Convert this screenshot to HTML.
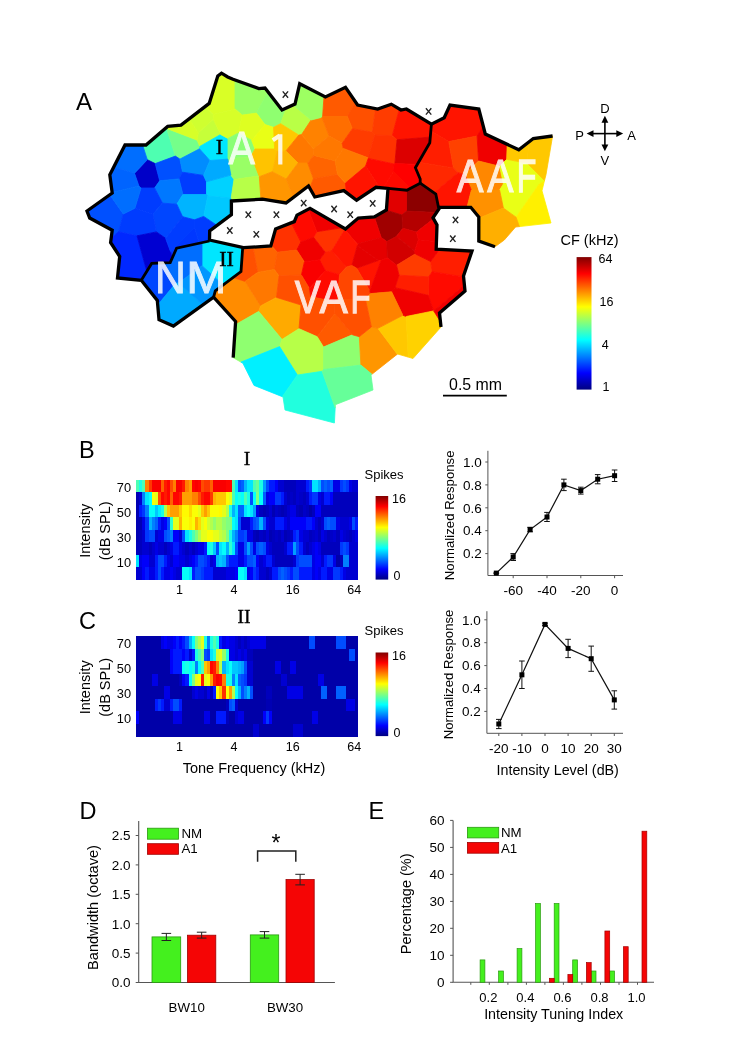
<!DOCTYPE html>
<html><head><meta charset="utf-8"><style>html,body{margin:0;padding:0;background:#fff;}svg{display:block;}</style></head>
<body><svg width="746" height="1042" viewBox="0 0 746 1042">
<rect width="746" height="1042" fill="#fff"/>
<g><polygon points="166.6,128.4 166.1,127.8 146.0,145.0 142.6,145.0 147.3,159.7 155.2,163.6 175.4,156.1 166.6,128.4" fill="#4effb1" stroke="#4effb1" stroke-width="0.8" stroke-linejoin="round"/><polygon points="199.8,146.4 197.0,140.1 166.6,128.4 175.4,156.1 179.9,159.1 199.5,148.8 199.8,146.4" fill="#75ff8a" stroke="#75ff8a" stroke-width="0.8" stroke-linejoin="round"/><polygon points="213.4,119.3 198.3,132.7 197.0,140.1 199.8,146.4 220.6,134.5 213.4,119.3" fill="#c6ff39" stroke="#c6ff39" stroke-width="0.8" stroke-linejoin="round"/><polygon points="228.0,158.8 228.0,138.5 220.6,134.5 199.8,146.4 199.5,148.8 209.9,160.5 227.8,159.1 228.0,158.8" fill="#00e6ff" stroke="#00e6ff" stroke-width="0.8" stroke-linejoin="round"/><polygon points="155.2,163.6 147.3,159.7 134.5,173.3 138.9,185.9 141.0,188.0 154.6,188.0 159.7,180.8 155.2,163.6" fill="#0000c8" stroke="#0000c8" stroke-width="0.8" stroke-linejoin="round"/><polygon points="179.0,178.9 182.6,172.2 179.9,159.1 175.4,156.1 155.2,163.6 159.7,180.8 179.0,178.9" fill="#0050ff" stroke="#0050ff" stroke-width="0.8" stroke-linejoin="round"/><polygon points="209.9,160.5 199.5,148.8 179.9,159.1 182.6,172.2 203.6,175.4 209.9,160.5" fill="#008cff" stroke="#008cff" stroke-width="0.8" stroke-linejoin="round"/><polygon points="182.6,172.2 179.0,178.9 182.9,194.5 206.5,194.5 206.5,181.8 203.6,175.4 182.6,172.2" fill="#003cff" stroke="#003cff" stroke-width="0.8" stroke-linejoin="round"/><polygon points="154.6,188.0 162.5,203.1 176.8,204.2 182.9,194.5 179.0,178.9 159.7,180.8 154.6,188.0" fill="#0078ff" stroke="#0078ff" stroke-width="0.8" stroke-linejoin="round"/><polygon points="206.5,181.8 206.5,194.5 207.8,196.1 231.2,197.9 234.0,179.6 230.9,175.1 206.5,181.8" fill="#00d2ff" stroke="#00d2ff" stroke-width="0.8" stroke-linejoin="round"/><polygon points="176.8,204.2 182.6,216.7 194.5,219.8 203.7,216.4 207.8,196.1 206.5,194.5 182.9,194.5 176.8,204.2" fill="#00b4ff" stroke="#00b4ff" stroke-width="0.8" stroke-linejoin="round"/><polygon points="231.2,197.9 207.8,196.1 203.7,216.4 217.0,225.4 231.4,214.7 231.4,201.0 233.5,200.9 231.2,197.9" fill="#00c8ff" stroke="#00c8ff" stroke-width="0.8" stroke-linejoin="round"/><polygon points="141.0,188.0 134.9,208.3 153.0,214.3 162.5,203.1 154.6,188.0 141.0,188.0" fill="#003cff" stroke="#003cff" stroke-width="0.8" stroke-linejoin="round"/><polygon points="162.5,203.1 153.0,214.3 156.4,231.9 165.6,238.3 182.6,216.7 176.8,204.2 162.5,203.1" fill="#0046ff" stroke="#0046ff" stroke-width="0.8" stroke-linejoin="round"/><polygon points="172.2,258.2 176.6,248.1 199.3,243.2 194.5,227.5 170.5,251.5 172.2,258.2" fill="#0037ff" stroke="#0037ff" stroke-width="0.8" stroke-linejoin="round"/><polygon points="134.5,173.3 147.3,159.7 142.6,145.0 125.0,145.0 113.7,167.0 134.5,173.3" fill="#006eff" stroke="#006eff" stroke-width="0.8" stroke-linejoin="round"/><polygon points="134.5,173.3 113.7,167.0 109.8,174.7 112.1,192.6 138.9,185.9 134.5,173.3" fill="#0064ff" stroke="#0064ff" stroke-width="0.8" stroke-linejoin="round"/><polygon points="109.8,194.7 87.0,211.0 89.7,218.0 112.2,230.2 111.2,237.8 118.5,231.8 123.3,213.9 109.8,194.7" fill="#0050ff" stroke="#0050ff" stroke-width="0.8" stroke-linejoin="round"/><polygon points="153.0,214.3 134.9,208.3 123.3,213.9 118.5,231.8 137.0,235.8 156.4,231.9 153.0,214.3" fill="#003cff" stroke="#003cff" stroke-width="0.8" stroke-linejoin="round"/><polygon points="112.1,192.6 112.2,193.0 109.8,194.7 123.3,213.9 134.9,208.3 141.0,188.0 138.9,185.9 112.1,192.6" fill="#006eff" stroke="#006eff" stroke-width="0.8" stroke-linejoin="round"/><polygon points="118.5,231.8 111.2,237.8 110.6,242.5 119.7,256.5 117.5,278.0 141.3,280.3 146.8,271.4 137.0,235.8 118.5,231.8" fill="#0028ff" stroke="#0028ff" stroke-width="0.8" stroke-linejoin="round"/><polygon points="194.5,227.5 199.3,243.2 209.5,241.0 209.7,230.8 217.0,225.4 203.7,216.4 194.5,219.8 194.5,227.5" fill="#003cff" stroke="#003cff" stroke-width="0.8" stroke-linejoin="round"/><polygon points="156.4,231.9 137.0,235.8 146.8,271.4 151.7,263.4 170.2,262.6 172.2,258.2 170.5,251.5 165.6,238.3 156.4,231.9" fill="#0000d2" stroke="#0000d2" stroke-width="0.8" stroke-linejoin="round"/><polygon points="170.5,251.5 194.5,227.5 194.5,219.8 182.6,216.7 165.6,238.3 170.5,251.5" fill="#003cff" stroke="#003cff" stroke-width="0.8" stroke-linejoin="round"/><polygon points="235.0,108.9 235.0,80.0 233.0,79.3 227.7,77.0 221.5,73.2 217.8,76.0 209.2,103.4 204.9,106.7 213.2,114.6 235.0,108.9" fill="#d9ff26" stroke="#d9ff26" stroke-width="0.8" stroke-linejoin="round"/><polygon points="256.4,113.1 268.0,91.8 265.0,88.0 258.8,88.6 235.0,80.0 235.0,108.9 242.2,115.1 256.4,113.1" fill="#99ff66" stroke="#99ff66" stroke-width="0.8" stroke-linejoin="round"/><polygon points="280.6,123.7 286.3,108.0 282.0,110.0 268.0,91.8 256.4,113.1 265.0,124.6 273.5,127.3 280.6,123.7" fill="#8fff70" stroke="#8fff70" stroke-width="0.8" stroke-linejoin="round"/><polygon points="311.1,120.0 293.0,104.9 286.3,108.0 280.6,123.7 298.8,135.1 301.5,134.6 311.1,120.0" fill="#b9ff46" stroke="#b9ff46" stroke-width="0.8" stroke-linejoin="round"/><polygon points="213.2,114.6 204.9,106.7 189.1,118.9 198.3,132.7 213.4,119.3 213.2,114.6" fill="#cfff30" stroke="#cfff30" stroke-width="0.8" stroke-linejoin="round"/><polygon points="238.5,132.9 242.2,115.1 235.0,108.9 213.2,114.6 213.4,119.3 220.6,134.5 228.0,138.5 238.5,132.9" fill="#d7ff28" stroke="#d7ff28" stroke-width="0.8" stroke-linejoin="round"/><polygon points="189.1,118.9 181.0,125.1 167.7,126.4 166.1,127.8 166.6,128.4 197.0,140.1 198.3,132.7 189.1,118.9" fill="#d7ff28" stroke="#d7ff28" stroke-width="0.8" stroke-linejoin="round"/><polygon points="265.0,124.6 256.4,113.1 242.2,115.1 238.5,132.9 251.7,140.5 265.0,124.6" fill="#deff21" stroke="#deff21" stroke-width="0.8" stroke-linejoin="round"/><polygon points="251.7,140.5 238.5,132.9 228.0,138.5 228.0,158.8 250.7,156.7 255.0,149.0 251.7,140.5" fill="#8aff75" stroke="#8aff75" stroke-width="0.8" stroke-linejoin="round"/><polygon points="274.6,149.0 273.5,127.3 265.0,124.6 251.7,140.5 255.0,149.0 274.6,149.0" fill="#e9ff16" stroke="#e9ff16" stroke-width="0.8" stroke-linejoin="round"/><polygon points="274.6,149.0 277.2,151.3 285.9,150.9 298.8,135.1 280.6,123.7 273.5,127.3 274.6,149.0" fill="#ffc800" stroke="#ffc800" stroke-width="0.8" stroke-linejoin="round"/><polygon points="314.0,155.4 313.5,149.1 301.5,134.6 298.8,135.1 285.9,150.9 298.0,163.0 307.7,163.0 314.0,155.4" fill="#ff7800" stroke="#ff7800" stroke-width="0.8" stroke-linejoin="round"/><polygon points="250.7,156.7 258.1,176.0 259.3,176.7 272.3,171.7 277.2,151.3 274.6,149.0 255.0,149.0 250.7,156.7" fill="#ffc300" stroke="#ffc300" stroke-width="0.8" stroke-linejoin="round"/><polygon points="298.0,163.0 285.9,150.9 277.2,151.3 272.3,171.7 286.2,179.0 298.0,163.0" fill="#ffb400" stroke="#ffb400" stroke-width="0.8" stroke-linejoin="round"/><polygon points="230.9,175.1 234.0,179.6 258.1,176.0 250.7,156.7 228.0,158.8 227.8,159.1 230.9,175.1" fill="#99ff66" stroke="#99ff66" stroke-width="0.8" stroke-linejoin="round"/><polygon points="209.9,160.5 203.6,175.4 206.5,181.8 230.9,175.1 227.8,159.1 209.9,160.5" fill="#00aaff" stroke="#00aaff" stroke-width="0.8" stroke-linejoin="round"/><polygon points="234.0,179.6 231.2,197.9 233.5,200.9 260.9,199.3 259.3,176.7 258.1,176.0 234.0,179.6" fill="#b7ff48" stroke="#b7ff48" stroke-width="0.8" stroke-linejoin="round"/><polygon points="272.3,171.7 259.3,176.7 260.9,199.3 262.5,199.2 286.0,203.0 293.3,197.5 286.2,179.0 272.3,171.7" fill="#ff9600" stroke="#ff9600" stroke-width="0.8" stroke-linejoin="round"/><polygon points="293.3,197.5 308.5,186.0 309.7,188.1 313.4,178.7 307.7,163.0 298.0,163.0 286.2,179.0 293.3,197.5" fill="#ff8c00" stroke="#ff8c00" stroke-width="0.8" stroke-linejoin="round"/><polygon points="329.1,136.1 321.9,117.3 311.1,120.0 301.5,134.6 313.5,149.1 329.1,136.1" fill="#ff8200" stroke="#ff8200" stroke-width="0.8" stroke-linejoin="round"/><polygon points="337.6,174.6 335.1,160.7 314.0,155.4 307.7,163.0 313.4,178.7 337.6,174.6" fill="#ff6400" stroke="#ff6400" stroke-width="0.8" stroke-linejoin="round"/><polygon points="345.4,183.1 337.6,174.6 313.4,178.7 309.7,188.1 314.8,197.0 343.8,190.6 346.3,192.5 345.4,183.1" fill="#ff5a00" stroke="#ff5a00" stroke-width="0.8" stroke-linejoin="round"/><polygon points="322.6,116.5 324.0,96.3 299.7,83.8 295.0,104.0 293.0,104.9 311.1,120.0 321.9,117.3 322.6,116.5" fill="#9dff62" stroke="#9dff62" stroke-width="0.8" stroke-linejoin="round"/><polygon points="347.3,116.5 355.3,101.7 345.5,87.3 325.4,97.0 324.0,96.3 322.6,116.5 347.3,116.5" fill="#ff5a00" stroke="#ff5a00" stroke-width="0.8" stroke-linejoin="round"/><polygon points="372.4,132.1 375.4,108.5 357.6,105.0 355.3,101.7 347.3,116.5 352.4,128.7 372.4,132.1" fill="#ff5000" stroke="#ff5000" stroke-width="0.8" stroke-linejoin="round"/><polygon points="374.7,135.1 392.3,135.7 399.3,109.0 391.3,104.2 377.7,109.0 375.4,108.5 372.4,132.1 374.7,135.1" fill="#ff3c00" stroke="#ff3c00" stroke-width="0.8" stroke-linejoin="round"/><polygon points="392.3,135.7 397.0,139.7 430.3,137.1 431.4,124.2 406.4,109.0 401.0,110.0 399.3,109.0 392.3,135.7" fill="#ff1400" stroke="#ff1400" stroke-width="0.8" stroke-linejoin="round"/><polygon points="352.4,128.7 347.3,116.5 322.6,116.5 321.9,117.3 329.1,136.1 342.2,143.3 352.4,128.7" fill="#ff6e00" stroke="#ff6e00" stroke-width="0.8" stroke-linejoin="round"/><polygon points="329.1,136.1 313.5,149.1 314.0,155.4 335.1,160.7 343.2,148.4 342.2,143.3 329.1,136.1" fill="#ff7800" stroke="#ff7800" stroke-width="0.8" stroke-linejoin="round"/><polygon points="343.2,148.4 368.0,157.8 374.7,135.1 372.4,132.1 352.4,128.7 342.2,143.3 343.2,148.4" fill="#ff3c00" stroke="#ff3c00" stroke-width="0.8" stroke-linejoin="round"/><polygon points="368.2,158.4 394.2,164.0 394.9,163.5 397.0,139.7 392.3,135.7 374.7,135.1 368.0,157.8 368.2,158.4" fill="#ff3200" stroke="#ff3200" stroke-width="0.8" stroke-linejoin="round"/><polygon points="397.0,139.7 394.9,163.5 417.3,164.4 429.8,142.7 430.3,137.1 397.0,139.7" fill="#dc0000" stroke="#dc0000" stroke-width="0.8" stroke-linejoin="round"/><polygon points="335.1,160.7 337.6,174.6 345.4,183.1 365.6,166.1 368.2,158.4 368.0,157.8 343.2,148.4 335.1,160.7" fill="#ff7800" stroke="#ff7800" stroke-width="0.8" stroke-linejoin="round"/><polygon points="379.5,187.6 383.2,188.0 393.4,171.4 394.2,164.0 368.2,158.4 365.6,166.1 379.5,187.6" fill="#ff0a00" stroke="#ff0a00" stroke-width="0.8" stroke-linejoin="round"/><polygon points="393.4,171.4 410.3,188.3 420.2,183.2 420.2,179.0 415.4,167.7 417.3,164.4 394.9,163.5 394.2,164.0 393.4,171.4" fill="#ff0000" stroke="#ff0000" stroke-width="0.8" stroke-linejoin="round"/><polygon points="346.3,192.5 356.6,200.2 376.0,187.3 379.5,187.6 365.6,166.1 345.4,183.1 346.3,192.5" fill="#ff1400" stroke="#ff1400" stroke-width="0.8" stroke-linejoin="round"/><polygon points="383.2,188.0 388.0,188.4 406.8,190.2 410.3,188.3 393.4,171.4 383.2,188.0" fill="#ff0a00" stroke="#ff0a00" stroke-width="0.8" stroke-linejoin="round"/><polygon points="483.2,126.1 478.8,109.0 450.0,105.0 444.2,117.8 431.4,124.2 430.8,131.1 448.8,141.6 477.1,136.0 483.2,126.1" fill="#ff1400" stroke="#ff1400" stroke-width="0.8" stroke-linejoin="round"/><polygon points="430.8,131.1 429.8,142.7 418.5,162.3 453.5,167.9 448.8,141.6 430.8,131.1" fill="#ff1e00" stroke="#ff1e00" stroke-width="0.8" stroke-linejoin="round"/><polygon points="448.8,141.6 453.5,167.9 458.0,172.7 464.7,174.4 478.6,161.0 477.1,136.0 448.8,141.6" fill="#ff4100" stroke="#ff4100" stroke-width="0.8" stroke-linejoin="round"/><polygon points="506.7,159.3 507.2,144.3 485.3,134.0 483.2,126.1 477.1,136.0 478.6,161.0 499.7,166.3 506.7,159.3" fill="#f00000" stroke="#f00000" stroke-width="0.8" stroke-linejoin="round"/><polygon points="453.5,167.9 418.5,162.3 415.4,167.7 420.2,179.0 420.2,183.2 434.0,192.8 458.0,172.7 453.5,167.9" fill="#ff2800" stroke="#ff2800" stroke-width="0.8" stroke-linejoin="round"/><polygon points="478.6,161.0 464.7,174.4 471.4,190.0 499.6,190.0 503.4,184.0 499.7,166.3 478.6,161.0" fill="#ff8700" stroke="#ff8700" stroke-width="0.8" stroke-linejoin="round"/><polygon points="544.3,181.3 544.5,180.5 527.3,163.3 506.7,159.3 499.7,166.3 503.4,184.0 539.3,184.0 544.3,181.3" fill="#e9ff16" stroke="#e9ff16" stroke-width="0.8" stroke-linejoin="round"/><polygon points="434.0,192.8 435.8,194.0 438.4,206.8 440.0,207.3 467.0,207.3 471.4,190.0 464.7,174.4 458.0,172.7 434.0,192.8" fill="#ff1400" stroke="#ff1400" stroke-width="0.8" stroke-linejoin="round"/><polygon points="527.3,163.3 544.5,180.5 546.0,174.7 552.6,136.0 533.3,138.5 528.6,142.2 527.3,163.3" fill="#ffc800" stroke="#ffc800" stroke-width="0.8" stroke-linejoin="round"/><polygon points="503.4,184.0 499.6,190.0 503.4,208.1 516.1,217.2 539.3,184.0 503.4,184.0" fill="#e9ff16" stroke="#e9ff16" stroke-width="0.8" stroke-linejoin="round"/><polygon points="516.1,217.2 519.4,226.6 551.0,223.0 542.0,190.8 544.3,181.3 539.3,184.0 516.1,217.2" fill="#fff000" stroke="#fff000" stroke-width="0.8" stroke-linejoin="round"/><polygon points="499.6,190.0 471.4,190.0 467.0,207.3 470.8,207.3 478.8,217.0 478.8,218.2 503.4,208.1 499.6,190.0" fill="#ff9100" stroke="#ff9100" stroke-width="0.8" stroke-linejoin="round"/><polygon points="478.8,218.2 478.8,241.0 495.0,246.8 504.3,240.0 515.6,227.0 519.4,226.6 516.1,217.2 503.4,208.1 478.8,218.2" fill="#ffaf00" stroke="#ffaf00" stroke-width="0.8" stroke-linejoin="round"/><polygon points="528.6,142.2 518.8,149.8 507.2,144.3 506.7,159.3 527.3,163.3 528.6,142.2" fill="#ffc800" stroke="#ffc800" stroke-width="0.8" stroke-linejoin="round"/><polygon points="406.5,211.1 436.5,212.5 440.0,207.3 438.4,206.8 435.8,194.0 420.2,183.2 406.8,190.2 406.5,190.2 406.5,211.1" fill="#8c0000" stroke="#8c0000" stroke-width="0.8" stroke-linejoin="round"/><polygon points="406.5,211.1 406.5,190.2 388.0,188.4 386.4,210.0 386.0,210.2 401.9,215.0 406.5,211.1" fill="#e10000" stroke="#e10000" stroke-width="0.8" stroke-linejoin="round"/><polygon points="401.9,215.0 386.0,210.2 374.3,217.0 381.2,237.5 386.8,241.6 396.3,236.6 402.9,228.3 401.9,215.0" fill="#a00000" stroke="#a00000" stroke-width="0.8" stroke-linejoin="round"/><polygon points="416.5,232.1 433.5,218.8 433.0,217.8 436.5,212.5 406.5,211.1 401.9,215.0 402.9,228.3 416.5,232.1" fill="#b40000" stroke="#b40000" stroke-width="0.8" stroke-linejoin="round"/><polygon points="396.3,236.6 414.7,250.9 418.4,239.7 416.5,232.1 402.9,228.3 396.3,236.6" fill="#dc0000" stroke="#dc0000" stroke-width="0.8" stroke-linejoin="round"/><polygon points="381.2,237.5 374.3,217.0 374.3,217.0 358.3,218.0 345.4,229.0 344.5,228.5 344.7,229.6 357.3,244.1 381.2,237.5" fill="#f00000" stroke="#f00000" stroke-width="0.8" stroke-linejoin="round"/><polygon points="344.7,229.6 344.5,228.5 343.0,227.6 316.8,231.7 313.6,237.3 325.1,252.2 331.8,250.8 344.7,229.6" fill="#ff3200" stroke="#ff3200" stroke-width="0.8" stroke-linejoin="round"/><polygon points="316.8,231.7 343.0,227.6 310.0,208.3 308.1,209.3 316.8,231.7" fill="#f00000" stroke="#f00000" stroke-width="0.8" stroke-linejoin="round"/><polygon points="381.0,260.5 387.3,257.8 386.8,241.6 381.2,237.5 357.3,244.1 357.3,245.5 378.3,260.5 381.0,260.5" fill="#e50000" stroke="#e50000" stroke-width="0.8" stroke-linejoin="round"/><polygon points="414.7,250.9 396.3,236.6 386.8,241.6 387.3,257.8 396.6,265.3 415.2,253.9 414.7,250.9" fill="#d20000" stroke="#d20000" stroke-width="0.8" stroke-linejoin="round"/><polygon points="432.1,271.7 430.6,261.5 415.2,253.9 396.6,265.3 399.0,275.2 428.8,276.8 432.1,271.7" fill="#ff3c00" stroke="#ff3c00" stroke-width="0.8" stroke-linejoin="round"/><polygon points="339.5,274.7 346.6,266.9 331.8,250.8 325.1,252.2 319.6,259.8 325.4,270.6 339.5,274.7" fill="#ff1e00" stroke="#ff1e00" stroke-width="0.8" stroke-linejoin="round"/><polygon points="369.9,291.1 381.0,260.5 378.3,260.5 356.7,268.2 369.9,291.1" fill="#ff1400" stroke="#ff1400" stroke-width="0.8" stroke-linejoin="round"/><polygon points="436.4,241.7 437.0,225.0 433.5,218.8 416.5,232.1 418.4,239.7 436.4,241.7" fill="#f00000" stroke="#f00000" stroke-width="0.8" stroke-linejoin="round"/><polygon points="463.6,276.9 463.5,276.0 472.0,251.0 439.6,249.4 430.6,261.5 432.1,271.7 463.6,276.9" fill="#ff1e00" stroke="#ff1e00" stroke-width="0.8" stroke-linejoin="round"/><polygon points="428.2,295.3 433.7,310.9 433.7,310.9 464.4,285.1 463.6,276.9 432.1,271.7 428.8,276.8 428.2,295.3" fill="#ff0a00" stroke="#ff0a00" stroke-width="0.8" stroke-linejoin="round"/><polygon points="399.0,275.2 395.0,287.7 428.2,295.3 428.8,276.8 399.0,275.2" fill="#ff1e00" stroke="#ff1e00" stroke-width="0.8" stroke-linejoin="round"/><polygon points="300.8,242.0 291.2,222.8 275.6,228.9 271.0,245.2 277.3,252.2 296.7,250.1 300.8,242.0" fill="#ff3200" stroke="#ff3200" stroke-width="0.8" stroke-linejoin="round"/><polygon points="316.8,231.7 308.1,209.3 297.0,215.1 294.3,221.6 291.2,222.8 300.8,242.0 313.6,237.3 316.8,231.7" fill="#ff0a00" stroke="#ff0a00" stroke-width="0.8" stroke-linejoin="round"/><polygon points="319.6,259.8 325.1,252.2 313.6,237.3 300.8,242.0 296.7,250.1 304.4,261.9 319.6,259.8" fill="#f00000" stroke="#f00000" stroke-width="0.8" stroke-linejoin="round"/><polygon points="277.3,252.2 271.0,245.2 270.8,246.0 253.0,247.1 257.6,272.4 274.3,269.5 277.3,252.2" fill="#ff6400" stroke="#ff6400" stroke-width="0.8" stroke-linejoin="round"/><polygon points="304.4,261.9 296.7,250.1 277.3,252.2 274.3,269.5 279.0,276.0 301.4,275.0 304.4,261.9" fill="#ff5a00" stroke="#ff5a00" stroke-width="0.8" stroke-linejoin="round"/><polygon points="325.4,270.6 319.6,259.8 304.4,261.9 301.4,275.0 309.4,288.4 325.4,270.6" fill="#fa0000" stroke="#fa0000" stroke-width="0.8" stroke-linejoin="round"/><polygon points="245.1,281.4 233.0,277.5 215.3,290.8 213.6,297.2 235.6,321.5 235.4,324.7 258.7,311.4 260.6,305.9 245.1,281.4" fill="#ff8c00" stroke="#ff8c00" stroke-width="0.8" stroke-linejoin="round"/><polygon points="253.0,247.1 243.4,247.7 242.6,249.0 241.0,271.5 233.0,277.5 245.1,281.4 257.6,272.4 253.0,247.1" fill="#ff5000" stroke="#ff5000" stroke-width="0.8" stroke-linejoin="round"/><polygon points="276.5,297.4 279.0,276.0 274.3,269.5 257.6,272.4 245.1,281.4 260.6,305.9 276.5,297.4" fill="#ff7800" stroke="#ff7800" stroke-width="0.8" stroke-linejoin="round"/><polygon points="258.7,311.4 282.0,339.4 299.0,328.7 301.0,305.0 276.5,297.4 260.6,305.9 258.7,311.4" fill="#ffaa00" stroke="#ffaa00" stroke-width="0.8" stroke-linejoin="round"/><polygon points="301.4,275.0 279.0,276.0 276.5,297.4 301.0,305.0 310.8,296.7 309.4,288.4 301.4,275.0" fill="#ff5000" stroke="#ff5000" stroke-width="0.8" stroke-linejoin="round"/><polygon points="310.8,296.7 334.5,301.6 337.6,299.5 339.5,274.7 325.4,270.6 309.4,288.4 310.8,296.7" fill="#ff0a00" stroke="#ff0a00" stroke-width="0.8" stroke-linejoin="round"/><polygon points="310.8,296.7 301.0,305.0 299.0,328.7 317.2,336.7 334.9,313.5 334.5,301.6 310.8,296.7" fill="#ff5000" stroke="#ff5000" stroke-width="0.8" stroke-linejoin="round"/><polygon points="334.9,313.5 317.2,336.7 323.5,347.0 352.4,334.8 334.9,313.5" fill="#ff5a00" stroke="#ff5a00" stroke-width="0.8" stroke-linejoin="round"/><polygon points="235.4,324.7 233.2,357.7 240.9,362.1 279.6,346.6 282.0,339.4 258.7,311.4 235.4,324.7" fill="#8fff70" stroke="#8fff70" stroke-width="0.8" stroke-linejoin="round"/><polygon points="279.6,346.6 297.4,375.0 322.1,371.3 323.5,369.5 323.5,347.0 317.2,336.7 299.0,328.7 282.0,339.4 279.6,346.6" fill="#b7ff48" stroke="#b7ff48" stroke-width="0.8" stroke-linejoin="round"/><polygon points="352.4,334.8 323.5,347.0 323.5,369.5 360.9,365.1 359.3,336.7 352.4,334.8" fill="#8fff70" stroke="#8fff70" stroke-width="0.8" stroke-linejoin="round"/><polygon points="279.6,346.6 240.9,362.1 242.9,363.3 254.0,385.4 282.3,396.7 297.4,375.0 279.6,346.6" fill="#00f0ff" stroke="#00f0ff" stroke-width="0.8" stroke-linejoin="round"/><polygon points="377.9,328.3 371.4,327.0 359.3,336.7 360.9,365.1 371.9,374.3 397.3,354.2 377.9,328.3" fill="#ff9600" stroke="#ff9600" stroke-width="0.8" stroke-linejoin="round"/><polygon points="297.4,375.0 282.3,396.7 283.0,397.0 285.0,410.0 334.4,423.0 335.2,407.8 322.1,371.3 297.4,375.0" fill="#21ffde" stroke="#21ffde" stroke-width="0.8" stroke-linejoin="round"/><polygon points="323.5,369.5 322.1,371.3 335.2,407.8 335.4,404.7 373.0,390.0 371.0,375.0 371.9,374.3 360.9,365.1 323.5,369.5" fill="#66ff99" stroke="#66ff99" stroke-width="0.8" stroke-linejoin="round"/><polygon points="402.9,315.3 377.9,328.3 397.3,354.2 397.5,354.0 408.2,357.1 406.2,316.5 402.9,315.3" fill="#ffc800" stroke="#ffc800" stroke-width="0.8" stroke-linejoin="round"/><polygon points="357.3,245.5 357.3,244.1 344.7,229.6 331.8,250.8 346.6,266.9 351.9,265.5 357.3,245.5" fill="#ff1400" stroke="#ff1400" stroke-width="0.8" stroke-linejoin="round"/><polygon points="378.3,260.5 357.3,245.5 351.9,265.5 356.7,268.2 378.3,260.5" fill="#e50000" stroke="#e50000" stroke-width="0.8" stroke-linejoin="round"/><polygon points="439.6,249.4 436.2,249.2 436.4,241.7 418.4,239.7 414.7,250.9 415.2,253.9 430.6,261.5 439.6,249.4" fill="#f00000" stroke="#f00000" stroke-width="0.8" stroke-linejoin="round"/><polygon points="351.9,265.5 346.6,266.9 339.5,274.7 337.6,299.5 365.5,299.5 370.5,293.6 369.9,291.1 356.7,268.2 351.9,265.5" fill="#ff4600" stroke="#ff4600" stroke-width="0.8" stroke-linejoin="round"/><polygon points="370.5,293.6 391.6,291.8 395.0,287.7 399.0,275.2 396.6,265.3 387.3,257.8 381.0,260.5 369.9,291.1 370.5,293.6" fill="#f00000" stroke="#f00000" stroke-width="0.8" stroke-linejoin="round"/><polygon points="428.2,295.3 395.0,287.7 391.6,291.8 402.9,315.3 406.2,316.5 433.7,310.9 428.2,295.3" fill="#f00000" stroke="#f00000" stroke-width="0.8" stroke-linejoin="round"/><polygon points="365.5,299.5 371.4,327.0 377.9,328.3 402.9,315.3 391.6,291.8 370.5,293.6 365.5,299.5" fill="#ff8200" stroke="#ff8200" stroke-width="0.8" stroke-linejoin="round"/><polygon points="334.5,301.6 334.9,313.5 352.4,334.8 359.3,336.7 371.4,327.0 365.5,299.5 337.6,299.5 334.5,301.6" fill="#ff5000" stroke="#ff5000" stroke-width="0.8" stroke-linejoin="round"/><polygon points="406.2,316.5 408.2,357.1 413.0,358.5 441.0,327.0 440.4,321.6 433.7,310.9 433.7,310.9 406.2,316.5" fill="#ffd200" stroke="#ffd200" stroke-width="0.8" stroke-linejoin="round"/><polygon points="440.4,321.6 439.5,313.0 465.0,291.0 464.4,285.1 433.7,310.9 440.4,321.6" fill="#f00000" stroke="#f00000" stroke-width="0.8" stroke-linejoin="round"/><polygon points="223.1,285.0 241.0,271.5 242.6,249.0 243.4,247.7 209.5,241.0 202.0,242.6 202.0,265.7 223.1,285.0" fill="#00e6ff" stroke="#00e6ff" stroke-width="0.8" stroke-linejoin="round"/><polygon points="202.0,265.7 202.0,242.6 176.6,248.1 170.2,262.6 163.5,262.9 175.9,283.0 178.6,283.0 202.0,265.7" fill="#006eff" stroke="#006eff" stroke-width="0.8" stroke-linejoin="round"/><polygon points="163.5,262.9 151.7,263.4 141.3,280.3 157.3,300.4 157.7,305.0 175.9,283.0 163.5,262.9" fill="#0046ff" stroke="#0046ff" stroke-width="0.8" stroke-linejoin="round"/><polygon points="175.9,283.0 157.7,305.0 159.0,319.7 173.4,326.0 203.0,304.8 178.6,283.0 175.9,283.0" fill="#00aaff" stroke="#00aaff" stroke-width="0.8" stroke-linejoin="round"/><polygon points="203.0,304.8 213.6,297.2 215.3,290.8 223.1,285.0 202.0,265.7 178.6,283.0 203.0,304.8" fill="#0096ff" stroke="#0096ff" stroke-width="0.8" stroke-linejoin="round"/></g><polygon points="231.4,201.0 262.5,199.2 286.0,203.0 308.5,186.0 314.8,197.0 343.8,190.6 356.6,200.2 376.0,187.3 388.0,188.4 386.4,210.0 374.3,217.0 358.3,218.0 345.4,229.0 310.0,208.3 297.0,215.1 294.3,221.6 275.6,228.9 270.8,246.0 243.4,247.7 209.5,240.0 209.7,230.8 231.4,214.7" fill="#fff"/><polyline points="233.2,357.7 235.6,321.5 213.6,297.2 173.4,326.0 159.0,319.7 157.3,300.4 141.3,280.3 117.5,278.0 119.7,256.5 110.6,242.5 112.2,230.2 89.7,218.0 87.0,211.0 112.2,193.0 109.8,174.7 125.0,145.0 146.0,145.0 167.7,126.4 181.0,125.1 209.2,103.4 217.8,76.0 221.5,73.2 227.7,77.0 233.0,79.3 258.8,88.6 265.0,88.0 282.0,110.0 295.0,104.0 299.7,83.8 325.4,97.0 345.5,87.3 357.6,105.0 377.7,109.0 391.3,104.2 401.0,110.0 406.4,109.0 431.4,124.2 444.2,117.8 450.0,105.0 478.8,109.0 485.3,134.0 518.8,149.8 533.3,138.5 552.6,136.0" fill="none" stroke="#000" stroke-width="3.3" stroke-linejoin="miter" stroke-miterlimit="3"/><polyline points="495.0,246.8 478.8,241.0 478.8,217.0 470.8,207.3 440.0,207.3 433.0,217.8 437.0,225.0 436.2,249.2 472.0,251.0 463.5,276.0 465.0,291.0 439.5,313.0 441.0,327.0" fill="none" stroke="#000" stroke-width="3.3" stroke-linejoin="miter" stroke-miterlimit="3"/><polygon points="231.4,201.0 262.5,199.2 286.0,203.0 308.5,186.0 314.8,197.0 343.8,190.6 356.6,200.2 376.0,187.3 388.0,188.4 386.4,210.0 374.3,217.0 358.3,218.0 345.4,229.0 310.0,208.3 297.0,215.1 294.3,221.6 275.6,228.9 270.8,246.0 243.4,247.7 209.5,240.0 209.7,230.8 231.4,214.7" fill="none" stroke="#000" stroke-width="3.3" stroke-linejoin="miter" stroke-miterlimit="3"/><polyline points="431.4,124.2 429.8,142.7 415.4,167.7 420.2,179.0 420.2,183.2" fill="none" stroke="#000" stroke-width="2.8" stroke-linejoin="miter" stroke-miterlimit="3"/><polyline points="388.0,188.4 406.8,190.2 420.2,183.2" fill="none" stroke="#000" stroke-width="2.8" stroke-linejoin="miter" stroke-miterlimit="3"/><polyline points="420.2,183.2 435.8,194.0 438.4,206.8 440.0,207.3" fill="none" stroke="#000" stroke-width="2.8" stroke-linejoin="miter" stroke-miterlimit="3"/><polyline points="209.5,241.0 176.6,248.1 170.2,262.6 151.7,263.4 141.3,280.3" fill="none" stroke="#000" stroke-width="2.8" stroke-linejoin="miter" stroke-miterlimit="3"/><polyline points="243.4,247.7 242.6,249.0 241.0,271.5 215.3,290.8 213.6,297.2" fill="none" stroke="#000" stroke-width="2.8" stroke-linejoin="miter" stroke-miterlimit="3"/><path d="M282.7,91.4L288.1,97.8M288.1,91.4L282.7,97.8M425.9,108.2L431.3,114.6M431.3,108.2L425.9,114.6M245.6,211.5L251.0,217.9M251.0,211.5L245.6,217.9M273.7,211.5L279.1,217.9M279.1,211.5L273.7,217.9M301.0,199.9L306.4,206.3M306.4,199.9L301.0,206.3M227.1,227.3L232.5,233.7M232.5,227.3L227.1,233.7M253.6,231.1L259.0,237.5M259.0,231.1L253.6,237.5M331.4,205.8L336.8,212.2M336.8,205.8L331.4,212.2M347.5,211.5L352.9,217.9M352.9,211.5L347.5,217.9M370.0,200.2L375.4,206.6M375.4,200.2L370.0,206.6M452.8,216.7L458.2,223.1M458.2,216.7L452.8,223.1M450.1,235.5L455.5,241.9M455.5,235.5L450.1,241.9" stroke="#222" stroke-width="1.35" fill="none"/><g opacity="0.85"><text x="0" y="0" font-family='"Liberation Sans", sans-serif' font-size="100" fill="#fff" stroke="#fff" stroke-width="2.28" transform="translate(228.40,164.20) scale(0.3955,0.4536)">A</text><text x="0" y="0" font-family='"Liberation Sans", sans-serif' font-size="100" fill="#fff" stroke="#fff" stroke-width="2.24" transform="translate(456.80,191.80) scale(0.4015,0.4710)">A</text><text x="0" y="0" font-family='"Liberation Sans", sans-serif' font-size="100" fill="#fff" stroke="#fff" stroke-width="2.28" transform="translate(487.30,191.80) scale(0.3939,0.4710)">A</text><text x="0" y="0" font-family='"Liberation Sans", sans-serif' font-size="100" fill="#fff" stroke="#fff" stroke-width="2.81" transform="translate(516.64,191.80) scale(0.3204,0.4710)">F</text><text x="0" y="0" font-family='"Liberation Sans", sans-serif' font-size="100" fill="#fff" stroke="#fff" stroke-width="2.11" transform="translate(154.99,293.40) scale(0.4268,0.4348)">N</text><text x="0" y="0" font-family='"Liberation Sans", sans-serif' font-size="100" fill="#fff" stroke="#fff" stroke-width="1.86" transform="translate(186.23,293.40) scale(0.4836,0.4348)">M</text><text x="0" y="0" font-family='"Liberation Sans", sans-serif' font-size="100" fill="#fff" stroke="#fff" stroke-width="2.32" transform="translate(294.81,312.80) scale(0.3877,0.4638)">V</text><text x="0" y="0" font-family='"Liberation Sans", sans-serif' font-size="100" fill="#fff" stroke="#fff" stroke-width="2.11" transform="translate(319.40,312.80) scale(0.4258,0.4638)">A</text><text x="0" y="0" font-family='"Liberation Sans", sans-serif' font-size="100" fill="#fff" stroke="#fff" stroke-width="2.74" transform="translate(350.47,312.80) scale(0.3286,0.4638)">F</text></g><path d="M272.8,140.2 L279.8,135.4 M280.3,134.2 L280.3,164.6" stroke="#fff" opacity="0.85" stroke-width="4.2" fill="none" stroke-linejoin="round"/><text x="219.4" y="154" font-family='"Liberation Serif", serif' font-size="22" text-anchor="middle" fill="#000" stroke="#000" stroke-width="0.4">I</text><text x="226.5" y="266" font-family='"Liberation Serif", serif' font-size="22" text-anchor="middle" fill="#000" stroke="#000" stroke-width="0.4">II</text><text x="76" y="110" font-family='"Liberation Sans", sans-serif' font-size="24" text-anchor="start" fill="#000" >A</text><g stroke="#000" stroke-width="1.6" fill="#000"><line x1="590" y1="133.6" x2="620" y2="133.6"/><line x1="604.9" y1="119" x2="604.9" y2="148"/></g><g fill="#000"><polygon points="586.6,133.6 593.5,130.2 593.5,137"/><polygon points="623.2,133.6 616.3,130.2 616.3,137"/><polygon points="604.9,115.8 601.5,122.7 608.3,122.7"/><polygon points="604.9,151.3 601.5,144.4 608.3,144.4"/></g><text x="604.9" y="113" font-family='"Liberation Sans", sans-serif' font-size="13" text-anchor="middle" fill="#000" >D</text><text x="604.9" y="164.5" font-family='"Liberation Sans", sans-serif' font-size="13" text-anchor="middle" fill="#000" >V</text><text x="579.6" y="139.7" font-family='"Liberation Sans", sans-serif' font-size="13" text-anchor="middle" fill="#000" >P</text><text x="631.6" y="139.7" font-family='"Liberation Sans", sans-serif' font-size="13" text-anchor="middle" fill="#000" >A</text><defs><linearGradient id="jetv" x1="0" y1="1" x2="0" y2="0"><stop offset="0" stop-color="#000080"/><stop offset="0.125" stop-color="#0000ff"/><stop offset="0.375" stop-color="#00ffff"/><stop offset="0.625" stop-color="#ffff00"/><stop offset="0.875" stop-color="#ff0000"/><stop offset="1" stop-color="#800000"/></linearGradient></defs><rect x="576.6" y="257.1" width="14.9" height="132.5" fill="url(#jetv)"/><text x="589.5" y="245" font-family='"Liberation Sans", sans-serif' font-size="14.5" text-anchor="middle" fill="#000" >CF (kHz)</text><text x="598.5" y="262.5" font-family='"Liberation Sans", sans-serif' font-size="12.5" text-anchor="start" fill="#000" >64</text><text x="599.5" y="306" font-family='"Liberation Sans", sans-serif' font-size="12.5" text-anchor="start" fill="#000" >16</text><text x="601.8" y="348.5" font-family='"Liberation Sans", sans-serif' font-size="12.5" text-anchor="start" fill="#000" >4</text><text x="602.5" y="391" font-family='"Liberation Sans", sans-serif' font-size="12.5" text-anchor="start" fill="#000" >1</text><line x1="443" y1="395.6" x2="506.8" y2="395.6" stroke="#000" stroke-width="1.6"/><text x="475.6" y="389.5" font-family='"Liberation Sans", sans-serif' font-size="15.9" text-anchor="middle" fill="#000" >0.5 mm</text><g shape-rendering="crispEdges"><rect x="136.20" y="479.80" width="3.48" height="12.90" fill="#4dffb3"/><rect x="139.28" y="479.80" width="3.48" height="12.90" fill="#1affe5"/><rect x="142.36" y="479.80" width="3.48" height="12.90" fill="#4dffb3"/><rect x="145.44" y="479.80" width="3.48" height="12.90" fill="#ff8000"/><rect x="148.52" y="479.80" width="3.48" height="12.90" fill="#ff3800"/><rect x="151.60" y="479.80" width="3.48" height="12.90" fill="#fa0000"/><rect x="154.68" y="479.80" width="3.48" height="12.90" fill="#fa0000"/><rect x="157.76" y="479.80" width="3.48" height="12.90" fill="#fa0000"/><rect x="160.84" y="479.80" width="3.48" height="12.90" fill="#ff6100"/><rect x="163.92" y="479.80" width="3.48" height="12.90" fill="#ff1a00"/><rect x="167.01" y="479.80" width="3.48" height="12.90" fill="#ff0500"/><rect x="170.09" y="479.80" width="3.48" height="12.90" fill="#ff4c00"/><rect x="173.17" y="479.80" width="3.48" height="12.90" fill="#ff8000"/><rect x="176.25" y="479.80" width="3.48" height="12.90" fill="#fa0000"/><rect x="179.33" y="479.80" width="3.48" height="12.90" fill="#fa0000"/><rect x="182.41" y="479.80" width="3.48" height="12.90" fill="#ff1a00"/><rect x="185.49" y="479.80" width="3.48" height="12.90" fill="#ff8000"/><rect x="188.57" y="479.80" width="3.48" height="12.90" fill="#ff9e00"/><rect x="191.65" y="479.80" width="3.48" height="12.90" fill="#ff0500"/><rect x="194.73" y="479.80" width="3.48" height="12.90" fill="#fa0000"/><rect x="197.81" y="479.80" width="3.48" height="12.90" fill="#ff0500"/><rect x="200.89" y="479.80" width="3.48" height="12.90" fill="#ff4c00"/><rect x="203.97" y="479.80" width="3.48" height="12.90" fill="#ff3800"/><rect x="207.05" y="479.80" width="3.48" height="12.90" fill="#ff3800"/><rect x="210.13" y="479.80" width="3.48" height="12.90" fill="#ff6100"/><rect x="213.21" y="479.80" width="3.48" height="12.90" fill="#fa0000"/><rect x="216.29" y="479.80" width="3.48" height="12.90" fill="#fa0000"/><rect x="219.38" y="479.80" width="3.48" height="12.90" fill="#fa0000"/><rect x="222.46" y="479.80" width="3.48" height="12.90" fill="#fa0000"/><rect x="225.54" y="479.80" width="3.48" height="12.90" fill="#ff0500"/><rect x="228.62" y="479.80" width="3.48" height="12.90" fill="#ff0500"/><rect x="231.70" y="479.80" width="3.48" height="12.90" fill="#4dffb3"/><rect x="234.78" y="479.80" width="3.48" height="12.90" fill="#00e5ff"/><rect x="237.86" y="479.80" width="3.48" height="12.90" fill="#004dff"/><rect x="240.94" y="479.80" width="3.48" height="12.90" fill="#0061ff"/><rect x="244.02" y="479.80" width="3.48" height="12.90" fill="#00b3ff"/><rect x="247.10" y="479.80" width="3.48" height="12.90" fill="#00e5ff"/><rect x="250.18" y="479.80" width="3.48" height="12.90" fill="#00e5ff"/><rect x="253.26" y="479.80" width="3.48" height="12.90" fill="#4dffb3"/><rect x="256.34" y="479.80" width="3.48" height="12.90" fill="#6bff94"/><rect x="259.42" y="479.80" width="3.48" height="12.90" fill="#1affe5"/><rect x="262.50" y="479.80" width="3.48" height="12.90" fill="#009eff"/><rect x="265.58" y="479.80" width="3.48" height="12.90" fill="#004dff"/><rect x="268.66" y="479.80" width="3.48" height="12.90" fill="#001aff"/><rect x="271.74" y="479.80" width="3.48" height="12.90" fill="#001aff"/><rect x="274.82" y="479.80" width="3.48" height="12.90" fill="#0000fa"/><rect x="277.91" y="479.80" width="3.48" height="12.90" fill="#0000d1"/><rect x="280.99" y="479.80" width="3.48" height="12.90" fill="#0000d1"/><rect x="284.07" y="479.80" width="3.48" height="12.90" fill="#0000bd"/><rect x="287.15" y="479.80" width="3.48" height="12.90" fill="#0000bd"/><rect x="290.23" y="479.80" width="3.48" height="12.90" fill="#0000bd"/><rect x="293.31" y="479.80" width="3.48" height="12.90" fill="#0000bd"/><rect x="296.39" y="479.80" width="3.48" height="12.90" fill="#0000d1"/><rect x="299.47" y="479.80" width="3.48" height="12.90" fill="#0000d1"/><rect x="302.55" y="479.80" width="3.48" height="12.90" fill="#0000d1"/><rect x="305.63" y="479.80" width="3.48" height="12.90" fill="#001aff"/><rect x="308.71" y="479.80" width="3.48" height="12.90" fill="#0038ff"/><rect x="311.79" y="479.80" width="3.48" height="12.90" fill="#00e5ff"/><rect x="314.87" y="479.80" width="3.48" height="12.90" fill="#00e5ff"/><rect x="317.95" y="479.80" width="3.48" height="12.90" fill="#00b3ff"/><rect x="321.03" y="479.80" width="3.48" height="12.90" fill="#004dff"/><rect x="324.11" y="479.80" width="3.48" height="12.90" fill="#0061ff"/><rect x="327.19" y="479.80" width="3.48" height="12.90" fill="#004dff"/><rect x="330.27" y="479.80" width="3.48" height="12.90" fill="#0061ff"/><rect x="333.36" y="479.80" width="3.48" height="12.90" fill="#0000e6"/><rect x="336.44" y="479.80" width="3.48" height="12.90" fill="#0000e6"/><rect x="339.52" y="479.80" width="3.48" height="12.90" fill="#0038ff"/><rect x="342.60" y="479.80" width="3.48" height="12.90" fill="#004dff"/><rect x="345.68" y="479.80" width="3.48" height="12.90" fill="#0038ff"/><rect x="348.76" y="479.80" width="3.48" height="12.90" fill="#0000e6"/><rect x="351.84" y="479.80" width="3.48" height="12.90" fill="#0000d1"/><rect x="354.92" y="479.80" width="3.48" height="12.90" fill="#0000d1"/><rect x="136.20" y="492.30" width="3.48" height="12.90" fill="#0000b3"/><rect x="139.28" y="492.30" width="3.48" height="12.90" fill="#0000d1"/><rect x="142.36" y="492.30" width="3.48" height="12.90" fill="#0080ff"/><rect x="145.44" y="492.30" width="3.48" height="12.90" fill="#00e5ff"/><rect x="148.52" y="492.30" width="3.48" height="12.90" fill="#05fffa"/><rect x="151.60" y="492.30" width="3.48" height="12.90" fill="#faff05"/><rect x="154.68" y="492.30" width="3.48" height="12.90" fill="#e5ff1a"/><rect x="157.76" y="492.30" width="3.48" height="12.90" fill="#ff4c00"/><rect x="160.84" y="492.30" width="3.48" height="12.90" fill="#ff0500"/><rect x="163.92" y="492.30" width="3.48" height="12.90" fill="#ff1a00"/><rect x="167.01" y="492.30" width="3.48" height="12.90" fill="#ff0500"/><rect x="170.09" y="492.30" width="3.48" height="12.90" fill="#ff6100"/><rect x="173.17" y="492.30" width="3.48" height="12.90" fill="#ff0500"/><rect x="176.25" y="492.30" width="3.48" height="12.90" fill="#ff0500"/><rect x="179.33" y="492.30" width="3.48" height="12.90" fill="#ff1a00"/><rect x="182.41" y="492.30" width="3.48" height="12.90" fill="#ff9e00"/><rect x="185.49" y="492.30" width="3.48" height="12.90" fill="#ff9e00"/><rect x="188.57" y="492.30" width="3.48" height="12.90" fill="#ff9e00"/><rect x="191.65" y="492.30" width="3.48" height="12.90" fill="#ff8000"/><rect x="194.73" y="492.30" width="3.48" height="12.90" fill="#ff8000"/><rect x="197.81" y="492.30" width="3.48" height="12.90" fill="#ff4c00"/><rect x="200.89" y="492.30" width="3.48" height="12.90" fill="#ff1a00"/><rect x="203.97" y="492.30" width="3.48" height="12.90" fill="#ff0500"/><rect x="207.05" y="492.30" width="3.48" height="12.90" fill="#ff0500"/><rect x="210.13" y="492.30" width="3.48" height="12.90" fill="#ff3800"/><rect x="213.21" y="492.30" width="3.48" height="12.90" fill="#ffb300"/><rect x="216.29" y="492.30" width="3.48" height="12.90" fill="#ffc700"/><rect x="219.38" y="492.30" width="3.48" height="12.90" fill="#ffc700"/><rect x="222.46" y="492.30" width="3.48" height="12.90" fill="#ffc700"/><rect x="225.54" y="492.30" width="3.48" height="12.90" fill="#faff05"/><rect x="228.62" y="492.30" width="3.48" height="12.90" fill="#e5ff1a"/><rect x="231.70" y="492.30" width="3.48" height="12.90" fill="#4dffb3"/><rect x="234.78" y="492.30" width="3.48" height="12.90" fill="#05fffa"/><rect x="237.86" y="492.30" width="3.48" height="12.90" fill="#1affe5"/><rect x="240.94" y="492.30" width="3.48" height="12.90" fill="#05fffa"/><rect x="244.02" y="492.30" width="3.48" height="12.90" fill="#4dffb3"/><rect x="247.10" y="492.30" width="3.48" height="12.90" fill="#1affe5"/><rect x="250.18" y="492.30" width="3.48" height="12.90" fill="#004dff"/><rect x="253.26" y="492.30" width="3.48" height="12.90" fill="#05fffa"/><rect x="256.34" y="492.30" width="3.48" height="12.90" fill="#80ff80"/><rect x="259.42" y="492.30" width="3.48" height="12.90" fill="#05fffa"/><rect x="262.50" y="492.30" width="3.48" height="12.90" fill="#0061ff"/><rect x="265.58" y="492.30" width="3.48" height="12.90" fill="#0000e6"/><rect x="268.66" y="492.30" width="3.48" height="12.90" fill="#0000fa"/><rect x="271.74" y="492.30" width="3.48" height="12.90" fill="#0000fa"/><rect x="274.82" y="492.30" width="3.48" height="12.90" fill="#0038ff"/><rect x="277.91" y="492.30" width="3.48" height="12.90" fill="#0038ff"/><rect x="280.99" y="492.30" width="3.48" height="12.90" fill="#001aff"/><rect x="284.07" y="492.30" width="3.48" height="12.90" fill="#0000d1"/><rect x="287.15" y="492.30" width="3.48" height="12.90" fill="#0000bd"/><rect x="290.23" y="492.30" width="3.48" height="12.90" fill="#0000c7"/><rect x="293.31" y="492.30" width="3.48" height="12.90" fill="#0000bd"/><rect x="296.39" y="492.30" width="3.48" height="12.90" fill="#0000d1"/><rect x="299.47" y="492.30" width="3.48" height="12.90" fill="#0000c7"/><rect x="302.55" y="492.30" width="3.48" height="12.90" fill="#0000bd"/><rect x="305.63" y="492.30" width="3.48" height="12.90" fill="#0000d1"/><rect x="308.71" y="492.30" width="3.48" height="12.90" fill="#001aff"/><rect x="311.79" y="492.30" width="3.48" height="12.90" fill="#0038ff"/><rect x="314.87" y="492.30" width="3.48" height="12.90" fill="#0038ff"/><rect x="317.95" y="492.30" width="3.48" height="12.90" fill="#0000e6"/><rect x="321.03" y="492.30" width="3.48" height="12.90" fill="#0000d1"/><rect x="324.11" y="492.30" width="3.48" height="12.90" fill="#001aff"/><rect x="327.19" y="492.30" width="3.48" height="12.90" fill="#001aff"/><rect x="330.27" y="492.30" width="3.48" height="12.90" fill="#0000fa"/><rect x="333.36" y="492.30" width="3.48" height="12.90" fill="#0000bd"/><rect x="336.44" y="492.30" width="3.48" height="12.90" fill="#0000bd"/><rect x="339.52" y="492.30" width="3.48" height="12.90" fill="#0000bd"/><rect x="342.60" y="492.30" width="3.48" height="12.90" fill="#0000bd"/><rect x="345.68" y="492.30" width="3.48" height="12.90" fill="#0000bd"/><rect x="348.76" y="492.30" width="3.48" height="12.90" fill="#0000bd"/><rect x="351.84" y="492.30" width="3.48" height="12.90" fill="#0000bd"/><rect x="354.92" y="492.30" width="3.48" height="12.90" fill="#0000bd"/><rect x="136.20" y="504.80" width="3.48" height="12.90" fill="#0000b3"/><rect x="139.28" y="504.80" width="3.48" height="12.90" fill="#001aff"/><rect x="142.36" y="504.80" width="3.48" height="12.90" fill="#0038ff"/><rect x="145.44" y="504.80" width="3.48" height="12.90" fill="#0080ff"/><rect x="148.52" y="504.80" width="3.48" height="12.90" fill="#05fffa"/><rect x="151.60" y="504.80" width="3.48" height="12.90" fill="#05fffa"/><rect x="154.68" y="504.80" width="3.48" height="12.90" fill="#00c7ff"/><rect x="157.76" y="504.80" width="3.48" height="12.90" fill="#00f0ff"/><rect x="160.84" y="504.80" width="3.48" height="12.90" fill="#1affe5"/><rect x="163.92" y="504.80" width="3.48" height="12.90" fill="#b3ff4c"/><rect x="167.01" y="504.80" width="3.48" height="12.90" fill="#ffc700"/><rect x="170.09" y="504.80" width="3.48" height="12.90" fill="#ff9e00"/><rect x="173.17" y="504.80" width="3.48" height="12.90" fill="#ff9e00"/><rect x="176.25" y="504.80" width="3.48" height="12.90" fill="#ff9e00"/><rect x="179.33" y="504.80" width="3.48" height="12.90" fill="#ffc700"/><rect x="182.41" y="504.80" width="3.48" height="12.90" fill="#fffa00"/><rect x="185.49" y="504.80" width="3.48" height="12.90" fill="#fffa00"/><rect x="188.57" y="504.80" width="3.48" height="12.90" fill="#ffdb00"/><rect x="191.65" y="504.80" width="3.48" height="12.90" fill="#faff05"/><rect x="194.73" y="504.80" width="3.48" height="12.90" fill="#faff05"/><rect x="197.81" y="504.80" width="3.48" height="12.90" fill="#e5ff1a"/><rect x="200.89" y="504.80" width="3.48" height="12.90" fill="#ffc700"/><rect x="203.97" y="504.80" width="3.48" height="12.90" fill="#ff9e00"/><rect x="207.05" y="504.80" width="3.48" height="12.90" fill="#ffc700"/><rect x="210.13" y="504.80" width="3.48" height="12.90" fill="#faff05"/><rect x="213.21" y="504.80" width="3.48" height="12.90" fill="#faff05"/><rect x="216.29" y="504.80" width="3.48" height="12.90" fill="#faff05"/><rect x="219.38" y="504.80" width="3.48" height="12.90" fill="#fffa00"/><rect x="222.46" y="504.80" width="3.48" height="12.90" fill="#e5ff1a"/><rect x="225.54" y="504.80" width="3.48" height="12.90" fill="#b3ff4c"/><rect x="228.62" y="504.80" width="3.48" height="12.90" fill="#1affe5"/><rect x="231.70" y="504.80" width="3.48" height="12.90" fill="#00b3ff"/><rect x="234.78" y="504.80" width="3.48" height="12.90" fill="#00e5ff"/><rect x="237.86" y="504.80" width="3.48" height="12.90" fill="#0061ff"/><rect x="240.94" y="504.80" width="3.48" height="12.90" fill="#0061ff"/><rect x="244.02" y="504.80" width="3.48" height="12.90" fill="#00e5ff"/><rect x="247.10" y="504.80" width="3.48" height="12.90" fill="#05fffa"/><rect x="250.18" y="504.80" width="3.48" height="12.90" fill="#00e5ff"/><rect x="253.26" y="504.80" width="3.48" height="12.90" fill="#009eff"/><rect x="256.34" y="504.80" width="3.48" height="12.90" fill="#0000e6"/><rect x="259.42" y="504.80" width="3.48" height="12.90" fill="#0000bd"/><rect x="262.50" y="504.80" width="3.48" height="12.90" fill="#0000b3"/><rect x="265.58" y="504.80" width="3.48" height="12.90" fill="#0000bd"/><rect x="268.66" y="504.80" width="3.48" height="12.90" fill="#0000d1"/><rect x="271.74" y="504.80" width="3.48" height="12.90" fill="#0000b3"/><rect x="274.82" y="504.80" width="3.48" height="12.90" fill="#0000c7"/><rect x="277.91" y="504.80" width="3.48" height="12.90" fill="#0000bd"/><rect x="280.99" y="504.80" width="3.48" height="12.90" fill="#0000b3"/><rect x="284.07" y="504.80" width="3.48" height="12.90" fill="#0000bd"/><rect x="287.15" y="504.80" width="3.48" height="12.90" fill="#0000d1"/><rect x="290.23" y="504.80" width="3.48" height="12.90" fill="#0000e6"/><rect x="293.31" y="504.80" width="3.48" height="12.90" fill="#0000e6"/><rect x="296.39" y="504.80" width="3.48" height="12.90" fill="#0000bd"/><rect x="299.47" y="504.80" width="3.48" height="12.90" fill="#0000b3"/><rect x="302.55" y="504.80" width="3.48" height="12.90" fill="#0000c7"/><rect x="305.63" y="504.80" width="3.48" height="12.90" fill="#0000bd"/><rect x="308.71" y="504.80" width="3.48" height="12.90" fill="#0000a8"/><rect x="311.79" y="504.80" width="3.48" height="12.90" fill="#0000bd"/><rect x="314.87" y="504.80" width="3.48" height="12.90" fill="#0000fa"/><rect x="317.95" y="504.80" width="3.48" height="12.90" fill="#0000fa"/><rect x="321.03" y="504.80" width="3.48" height="12.90" fill="#0000bd"/><rect x="324.11" y="504.80" width="3.48" height="12.90" fill="#0000bd"/><rect x="327.19" y="504.80" width="3.48" height="12.90" fill="#0000bd"/><rect x="330.27" y="504.80" width="3.48" height="12.90" fill="#0000bd"/><rect x="333.36" y="504.80" width="3.48" height="12.90" fill="#0000bd"/><rect x="336.44" y="504.80" width="3.48" height="12.90" fill="#0000bd"/><rect x="339.52" y="504.80" width="3.48" height="12.90" fill="#0000bd"/><rect x="342.60" y="504.80" width="3.48" height="12.90" fill="#0000bd"/><rect x="345.68" y="504.80" width="3.48" height="12.90" fill="#0000bd"/><rect x="348.76" y="504.80" width="3.48" height="12.90" fill="#0000bd"/><rect x="351.84" y="504.80" width="3.48" height="12.90" fill="#0000bd"/><rect x="354.92" y="504.80" width="3.48" height="12.90" fill="#0000bd"/><rect x="136.20" y="517.30" width="3.48" height="12.90" fill="#0000b3"/><rect x="139.28" y="517.30" width="3.48" height="12.90" fill="#0000b3"/><rect x="142.36" y="517.30" width="3.48" height="12.90" fill="#0000e6"/><rect x="145.44" y="517.30" width="3.48" height="12.90" fill="#0038ff"/><rect x="148.52" y="517.30" width="3.48" height="12.90" fill="#00b3ff"/><rect x="151.60" y="517.30" width="3.48" height="12.90" fill="#0080ff"/><rect x="154.68" y="517.30" width="3.48" height="12.90" fill="#0061ff"/><rect x="157.76" y="517.30" width="3.48" height="12.90" fill="#001aff"/><rect x="160.84" y="517.30" width="3.48" height="12.90" fill="#0000e6"/><rect x="163.92" y="517.30" width="3.48" height="12.90" fill="#0000fa"/><rect x="167.01" y="517.30" width="3.48" height="12.90" fill="#004dff"/><rect x="170.09" y="517.30" width="3.48" height="12.90" fill="#2effd1"/><rect x="173.17" y="517.30" width="3.48" height="12.90" fill="#e5ff1a"/><rect x="176.25" y="517.30" width="3.48" height="12.90" fill="#e5ff1a"/><rect x="179.33" y="517.30" width="3.48" height="12.90" fill="#ffb300"/><rect x="182.41" y="517.30" width="3.48" height="12.90" fill="#faff05"/><rect x="185.49" y="517.30" width="3.48" height="12.90" fill="#faff05"/><rect x="188.57" y="517.30" width="3.48" height="12.90" fill="#fff000"/><rect x="191.65" y="517.30" width="3.48" height="12.90" fill="#faff05"/><rect x="194.73" y="517.30" width="3.48" height="12.90" fill="#ffb300"/><rect x="197.81" y="517.30" width="3.48" height="12.90" fill="#ffdb00"/><rect x="200.89" y="517.30" width="3.48" height="12.90" fill="#e5ff1a"/><rect x="203.97" y="517.30" width="3.48" height="12.90" fill="#faff05"/><rect x="207.05" y="517.30" width="3.48" height="12.90" fill="#d1ff2e"/><rect x="210.13" y="517.30" width="3.48" height="12.90" fill="#b3ff4c"/><rect x="213.21" y="517.30" width="3.48" height="12.90" fill="#94ff6b"/><rect x="216.29" y="517.30" width="3.48" height="12.90" fill="#b3ff4c"/><rect x="219.38" y="517.30" width="3.48" height="12.90" fill="#b3ff4c"/><rect x="222.46" y="517.30" width="3.48" height="12.90" fill="#94ff6b"/><rect x="225.54" y="517.30" width="3.48" height="12.90" fill="#80ff80"/><rect x="228.62" y="517.30" width="3.48" height="12.90" fill="#80ff80"/><rect x="231.70" y="517.30" width="3.48" height="12.90" fill="#05fffa"/><rect x="234.78" y="517.30" width="3.48" height="12.90" fill="#00e5ff"/><rect x="237.86" y="517.30" width="3.48" height="12.90" fill="#004dff"/><rect x="240.94" y="517.30" width="3.48" height="12.90" fill="#0000d1"/><rect x="244.02" y="517.30" width="3.48" height="12.90" fill="#0000d1"/><rect x="247.10" y="517.30" width="3.48" height="12.90" fill="#0000d1"/><rect x="250.18" y="517.30" width="3.48" height="12.90" fill="#001aff"/><rect x="253.26" y="517.30" width="3.48" height="12.90" fill="#004dff"/><rect x="256.34" y="517.30" width="3.48" height="12.90" fill="#0061ff"/><rect x="259.42" y="517.30" width="3.48" height="12.90" fill="#00b3ff"/><rect x="262.50" y="517.30" width="3.48" height="12.90" fill="#004dff"/><rect x="265.58" y="517.30" width="3.48" height="12.90" fill="#0000e6"/><rect x="268.66" y="517.30" width="3.48" height="12.90" fill="#0000d1"/><rect x="271.74" y="517.30" width="3.48" height="12.90" fill="#0000d1"/><rect x="274.82" y="517.30" width="3.48" height="12.90" fill="#001aff"/><rect x="277.91" y="517.30" width="3.48" height="12.90" fill="#001aff"/><rect x="280.99" y="517.30" width="3.48" height="12.90" fill="#001aff"/><rect x="284.07" y="517.30" width="3.48" height="12.90" fill="#0000e6"/><rect x="287.15" y="517.30" width="3.48" height="12.90" fill="#0000d1"/><rect x="290.23" y="517.30" width="3.48" height="12.90" fill="#0000fa"/><rect x="293.31" y="517.30" width="3.48" height="12.90" fill="#0000fa"/><rect x="296.39" y="517.30" width="3.48" height="12.90" fill="#0000fa"/><rect x="299.47" y="517.30" width="3.48" height="12.90" fill="#0000fa"/><rect x="302.55" y="517.30" width="3.48" height="12.90" fill="#0000fa"/><rect x="305.63" y="517.30" width="3.48" height="12.90" fill="#001aff"/><rect x="308.71" y="517.30" width="3.48" height="12.90" fill="#001aff"/><rect x="311.79" y="517.30" width="3.48" height="12.90" fill="#0000fa"/><rect x="314.87" y="517.30" width="3.48" height="12.90" fill="#0000d1"/><rect x="317.95" y="517.30" width="3.48" height="12.90" fill="#0000bd"/><rect x="321.03" y="517.30" width="3.48" height="12.90" fill="#0000d1"/><rect x="324.11" y="517.30" width="3.48" height="12.90" fill="#004dff"/><rect x="327.19" y="517.30" width="3.48" height="12.90" fill="#0061ff"/><rect x="330.27" y="517.30" width="3.48" height="12.90" fill="#004dff"/><rect x="333.36" y="517.30" width="3.48" height="12.90" fill="#004dff"/><rect x="336.44" y="517.30" width="3.48" height="12.90" fill="#0000e6"/><rect x="339.52" y="517.30" width="3.48" height="12.90" fill="#0000d1"/><rect x="342.60" y="517.30" width="3.48" height="12.90" fill="#0000d1"/><rect x="345.68" y="517.30" width="3.48" height="12.90" fill="#0000d1"/><rect x="348.76" y="517.30" width="3.48" height="12.90" fill="#0000e6"/><rect x="351.84" y="517.30" width="3.48" height="12.90" fill="#004dff"/><rect x="354.92" y="517.30" width="3.48" height="12.90" fill="#001aff"/><rect x="136.20" y="529.80" width="3.48" height="12.90" fill="#0000b3"/><rect x="139.28" y="529.80" width="3.48" height="12.90" fill="#0000bd"/><rect x="142.36" y="529.80" width="3.48" height="12.90" fill="#0000d1"/><rect x="145.44" y="529.80" width="3.48" height="12.90" fill="#0038ff"/><rect x="148.52" y="529.80" width="3.48" height="12.90" fill="#004dff"/><rect x="151.60" y="529.80" width="3.48" height="12.90" fill="#004dff"/><rect x="154.68" y="529.80" width="3.48" height="12.90" fill="#0000d1"/><rect x="157.76" y="529.80" width="3.48" height="12.90" fill="#0000e6"/><rect x="160.84" y="529.80" width="3.48" height="12.90" fill="#0000e6"/><rect x="163.92" y="529.80" width="3.48" height="12.90" fill="#004dff"/><rect x="167.01" y="529.80" width="3.48" height="12.90" fill="#0061ff"/><rect x="170.09" y="529.80" width="3.48" height="12.90" fill="#0080ff"/><rect x="173.17" y="529.80" width="3.48" height="12.90" fill="#0000fa"/><rect x="176.25" y="529.80" width="3.48" height="12.90" fill="#0000fa"/><rect x="179.33" y="529.80" width="3.48" height="12.90" fill="#0000d1"/><rect x="182.41" y="529.80" width="3.48" height="12.90" fill="#004dff"/><rect x="185.49" y="529.80" width="3.48" height="12.90" fill="#00e5ff"/><rect x="188.57" y="529.80" width="3.48" height="12.90" fill="#1affe5"/><rect x="191.65" y="529.80" width="3.48" height="12.90" fill="#4dffb3"/><rect x="194.73" y="529.80" width="3.48" height="12.90" fill="#80ff80"/><rect x="197.81" y="529.80" width="3.48" height="12.90" fill="#b3ff4c"/><rect x="200.89" y="529.80" width="3.48" height="12.90" fill="#e5ff1a"/><rect x="203.97" y="529.80" width="3.48" height="12.90" fill="#e5ff1a"/><rect x="207.05" y="529.80" width="3.48" height="12.90" fill="#faff05"/><rect x="210.13" y="529.80" width="3.48" height="12.90" fill="#faff05"/><rect x="213.21" y="529.80" width="3.48" height="12.90" fill="#e5ff1a"/><rect x="216.29" y="529.80" width="3.48" height="12.90" fill="#e5ff1a"/><rect x="219.38" y="529.80" width="3.48" height="12.90" fill="#c7ff38"/><rect x="222.46" y="529.80" width="3.48" height="12.90" fill="#b3ff4c"/><rect x="225.54" y="529.80" width="3.48" height="12.90" fill="#80ff80"/><rect x="228.62" y="529.80" width="3.48" height="12.90" fill="#1affe5"/><rect x="231.70" y="529.80" width="3.48" height="12.90" fill="#00b3ff"/><rect x="234.78" y="529.80" width="3.48" height="12.90" fill="#0080ff"/><rect x="237.86" y="529.80" width="3.48" height="12.90" fill="#0038ff"/><rect x="240.94" y="529.80" width="3.48" height="12.90" fill="#0038ff"/><rect x="244.02" y="529.80" width="3.48" height="12.90" fill="#004dff"/><rect x="247.10" y="529.80" width="3.48" height="12.90" fill="#0000e6"/><rect x="250.18" y="529.80" width="3.48" height="12.90" fill="#0000e6"/><rect x="253.26" y="529.80" width="3.48" height="12.90" fill="#0000bd"/><rect x="256.34" y="529.80" width="3.48" height="12.90" fill="#0000b3"/><rect x="259.42" y="529.80" width="3.48" height="12.90" fill="#0000c7"/><rect x="262.50" y="529.80" width="3.48" height="12.90" fill="#0000bd"/><rect x="265.58" y="529.80" width="3.48" height="12.90" fill="#0000d1"/><rect x="268.66" y="529.80" width="3.48" height="12.90" fill="#0000b3"/><rect x="271.74" y="529.80" width="3.48" height="12.90" fill="#0000bd"/><rect x="274.82" y="529.80" width="3.48" height="12.90" fill="#0000c7"/><rect x="277.91" y="529.80" width="3.48" height="12.90" fill="#0000bd"/><rect x="280.99" y="529.80" width="3.48" height="12.90" fill="#0000d1"/><rect x="284.07" y="529.80" width="3.48" height="12.90" fill="#0000b3"/><rect x="287.15" y="529.80" width="3.48" height="12.90" fill="#0000bd"/><rect x="290.23" y="529.80" width="3.48" height="12.90" fill="#0000c7"/><rect x="293.31" y="529.80" width="3.48" height="12.90" fill="#001aff"/><rect x="296.39" y="529.80" width="3.48" height="12.90" fill="#0038ff"/><rect x="299.47" y="529.80" width="3.48" height="12.90" fill="#0000e6"/><rect x="302.55" y="529.80" width="3.48" height="12.90" fill="#0000d1"/><rect x="305.63" y="529.80" width="3.48" height="12.90" fill="#0000d1"/><rect x="308.71" y="529.80" width="3.48" height="12.90" fill="#0000bd"/><rect x="311.79" y="529.80" width="3.48" height="12.90" fill="#0000c7"/><rect x="314.87" y="529.80" width="3.48" height="12.90" fill="#0000d1"/><rect x="317.95" y="529.80" width="3.48" height="12.90" fill="#0000bd"/><rect x="321.03" y="529.80" width="3.48" height="12.90" fill="#0000e6"/><rect x="324.11" y="529.80" width="3.48" height="12.90" fill="#0000d1"/><rect x="327.19" y="529.80" width="3.48" height="12.90" fill="#0000bd"/><rect x="330.27" y="529.80" width="3.48" height="12.90" fill="#0000c7"/><rect x="333.36" y="529.80" width="3.48" height="12.90" fill="#0000d1"/><rect x="336.44" y="529.80" width="3.48" height="12.90" fill="#0000bd"/><rect x="339.52" y="529.80" width="3.48" height="12.90" fill="#0000e6"/><rect x="342.60" y="529.80" width="3.48" height="12.90" fill="#0000d1"/><rect x="345.68" y="529.80" width="3.48" height="12.90" fill="#0000c7"/><rect x="348.76" y="529.80" width="3.48" height="12.90" fill="#0000bd"/><rect x="351.84" y="529.80" width="3.48" height="12.90" fill="#0000d1"/><rect x="354.92" y="529.80" width="3.48" height="12.90" fill="#0000e6"/><rect x="136.20" y="542.30" width="3.48" height="12.90" fill="#0000bd"/><rect x="139.28" y="542.30" width="3.48" height="12.90" fill="#0000bd"/><rect x="142.36" y="542.30" width="3.48" height="12.90" fill="#0000d1"/><rect x="145.44" y="542.30" width="3.48" height="12.90" fill="#0000d1"/><rect x="148.52" y="542.30" width="3.48" height="12.90" fill="#0000bd"/><rect x="151.60" y="542.30" width="3.48" height="12.90" fill="#0000d1"/><rect x="154.68" y="542.30" width="3.48" height="12.90" fill="#0000e6"/><rect x="157.76" y="542.30" width="3.48" height="12.90" fill="#0000d1"/><rect x="160.84" y="542.30" width="3.48" height="12.90" fill="#0000d1"/><rect x="163.92" y="542.30" width="3.48" height="12.90" fill="#0000bd"/><rect x="167.01" y="542.30" width="3.48" height="12.90" fill="#0000d1"/><rect x="170.09" y="542.30" width="3.48" height="12.90" fill="#0000e6"/><rect x="173.17" y="542.30" width="3.48" height="12.90" fill="#001aff"/><rect x="176.25" y="542.30" width="3.48" height="12.90" fill="#001aff"/><rect x="179.33" y="542.30" width="3.48" height="12.90" fill="#0000e6"/><rect x="182.41" y="542.30" width="3.48" height="12.90" fill="#0000d1"/><rect x="185.49" y="542.30" width="3.48" height="12.90" fill="#0000bd"/><rect x="188.57" y="542.30" width="3.48" height="12.90" fill="#0000d1"/><rect x="191.65" y="542.30" width="3.48" height="12.90" fill="#0000bd"/><rect x="194.73" y="542.30" width="3.48" height="12.90" fill="#0000d1"/><rect x="197.81" y="542.30" width="3.48" height="12.90" fill="#0000e6"/><rect x="200.89" y="542.30" width="3.48" height="12.90" fill="#0000e6"/><rect x="203.97" y="542.30" width="3.48" height="12.90" fill="#001aff"/><rect x="207.05" y="542.30" width="3.48" height="12.90" fill="#05fffa"/><rect x="210.13" y="542.30" width="3.48" height="12.90" fill="#1affe5"/><rect x="213.21" y="542.30" width="3.48" height="12.90" fill="#00c7ff"/><rect x="216.29" y="542.30" width="3.48" height="12.90" fill="#004dff"/><rect x="219.38" y="542.30" width="3.48" height="12.90" fill="#00e5ff"/><rect x="222.46" y="542.30" width="3.48" height="12.90" fill="#05fffa"/><rect x="225.54" y="542.30" width="3.48" height="12.90" fill="#00b3ff"/><rect x="228.62" y="542.30" width="3.48" height="12.90" fill="#2effd1"/><rect x="231.70" y="542.30" width="3.48" height="12.90" fill="#00e5ff"/><rect x="234.78" y="542.30" width="3.48" height="12.90" fill="#004dff"/><rect x="237.86" y="542.30" width="3.48" height="12.90" fill="#0000e6"/><rect x="240.94" y="542.30" width="3.48" height="12.90" fill="#0000e6"/><rect x="244.02" y="542.30" width="3.48" height="12.90" fill="#004dff"/><rect x="247.10" y="542.30" width="3.48" height="12.90" fill="#009eff"/><rect x="250.18" y="542.30" width="3.48" height="12.90" fill="#004dff"/><rect x="253.26" y="542.30" width="3.48" height="12.90" fill="#0000e6"/><rect x="256.34" y="542.30" width="3.48" height="12.90" fill="#004dff"/><rect x="259.42" y="542.30" width="3.48" height="12.90" fill="#0061ff"/><rect x="262.50" y="542.30" width="3.48" height="12.90" fill="#004dff"/><rect x="265.58" y="542.30" width="3.48" height="12.90" fill="#0000e6"/><rect x="268.66" y="542.30" width="3.48" height="12.90" fill="#0000d1"/><rect x="271.74" y="542.30" width="3.48" height="12.90" fill="#0000bd"/><rect x="274.82" y="542.30" width="3.48" height="12.90" fill="#0000bd"/><rect x="277.91" y="542.30" width="3.48" height="12.90" fill="#0000bd"/><rect x="280.99" y="542.30" width="3.48" height="12.90" fill="#0000bd"/><rect x="284.07" y="542.30" width="3.48" height="12.90" fill="#0000d1"/><rect x="287.15" y="542.30" width="3.48" height="12.90" fill="#001aff"/><rect x="290.23" y="542.30" width="3.48" height="12.90" fill="#001aff"/><rect x="293.31" y="542.30" width="3.48" height="12.90" fill="#009eff"/><rect x="296.39" y="542.30" width="3.48" height="12.90" fill="#004dff"/><rect x="299.47" y="542.30" width="3.48" height="12.90" fill="#001aff"/><rect x="302.55" y="542.30" width="3.48" height="12.90" fill="#0000d1"/><rect x="305.63" y="542.30" width="3.48" height="12.90" fill="#0000bd"/><rect x="308.71" y="542.30" width="3.48" height="12.90" fill="#0000d1"/><rect x="311.79" y="542.30" width="3.48" height="12.90" fill="#0000e6"/><rect x="314.87" y="542.30" width="3.48" height="12.90" fill="#0000fa"/><rect x="317.95" y="542.30" width="3.48" height="12.90" fill="#0000e6"/><rect x="321.03" y="542.30" width="3.48" height="12.90" fill="#0000bd"/><rect x="324.11" y="542.30" width="3.48" height="12.90" fill="#0000bd"/><rect x="327.19" y="542.30" width="3.48" height="12.90" fill="#0000bd"/><rect x="330.27" y="542.30" width="3.48" height="12.90" fill="#0000bd"/><rect x="333.36" y="542.30" width="3.48" height="12.90" fill="#0000bd"/><rect x="336.44" y="542.30" width="3.48" height="12.90" fill="#0000bd"/><rect x="339.52" y="542.30" width="3.48" height="12.90" fill="#0038ff"/><rect x="342.60" y="542.30" width="3.48" height="12.90" fill="#004dff"/><rect x="345.68" y="542.30" width="3.48" height="12.90" fill="#0038ff"/><rect x="348.76" y="542.30" width="3.48" height="12.90" fill="#0000d1"/><rect x="351.84" y="542.30" width="3.48" height="12.90" fill="#0000d1"/><rect x="354.92" y="542.30" width="3.48" height="12.90" fill="#0000d1"/><rect x="136.20" y="554.80" width="3.48" height="12.90" fill="#00e5ff"/><rect x="139.28" y="554.80" width="3.48" height="12.90" fill="#0000e6"/><rect x="142.36" y="554.80" width="3.48" height="12.90" fill="#0000fa"/><rect x="145.44" y="554.80" width="3.48" height="12.90" fill="#0000fa"/><rect x="148.52" y="554.80" width="3.48" height="12.90" fill="#0000d1"/><rect x="151.60" y="554.80" width="3.48" height="12.90" fill="#0000d1"/><rect x="154.68" y="554.80" width="3.48" height="12.90" fill="#001aff"/><rect x="157.76" y="554.80" width="3.48" height="12.90" fill="#004dff"/><rect x="160.84" y="554.80" width="3.48" height="12.90" fill="#004dff"/><rect x="163.92" y="554.80" width="3.48" height="12.90" fill="#001aff"/><rect x="167.01" y="554.80" width="3.48" height="12.90" fill="#0000e6"/><rect x="170.09" y="554.80" width="3.48" height="12.90" fill="#0000d1"/><rect x="173.17" y="554.80" width="3.48" height="12.90" fill="#0000fa"/><rect x="176.25" y="554.80" width="3.48" height="12.90" fill="#0000fa"/><rect x="179.33" y="554.80" width="3.48" height="12.90" fill="#0000e6"/><rect x="182.41" y="554.80" width="3.48" height="12.90" fill="#0000e6"/><rect x="185.49" y="554.80" width="3.48" height="12.90" fill="#0000d1"/><rect x="188.57" y="554.80" width="3.48" height="12.90" fill="#0000e6"/><rect x="191.65" y="554.80" width="3.48" height="12.90" fill="#0000fa"/><rect x="194.73" y="554.80" width="3.48" height="12.90" fill="#001aff"/><rect x="197.81" y="554.80" width="3.48" height="12.90" fill="#004dff"/><rect x="200.89" y="554.80" width="3.48" height="12.90" fill="#004dff"/><rect x="203.97" y="554.80" width="3.48" height="12.90" fill="#0038ff"/><rect x="207.05" y="554.80" width="3.48" height="12.90" fill="#001aff"/><rect x="210.13" y="554.80" width="3.48" height="12.90" fill="#0000d1"/><rect x="213.21" y="554.80" width="3.48" height="12.90" fill="#0000e6"/><rect x="216.29" y="554.80" width="3.48" height="12.90" fill="#00b3ff"/><rect x="219.38" y="554.80" width="3.48" height="12.90" fill="#00c7ff"/><rect x="222.46" y="554.80" width="3.48" height="12.90" fill="#00b3ff"/><rect x="225.54" y="554.80" width="3.48" height="12.90" fill="#004dff"/><rect x="228.62" y="554.80" width="3.48" height="12.90" fill="#001aff"/><rect x="231.70" y="554.80" width="3.48" height="12.90" fill="#001aff"/><rect x="234.78" y="554.80" width="3.48" height="12.90" fill="#001aff"/><rect x="237.86" y="554.80" width="3.48" height="12.90" fill="#0000e6"/><rect x="240.94" y="554.80" width="3.48" height="12.90" fill="#0000e6"/><rect x="244.02" y="554.80" width="3.48" height="12.90" fill="#001aff"/><rect x="247.10" y="554.80" width="3.48" height="12.90" fill="#004dff"/><rect x="250.18" y="554.80" width="3.48" height="12.90" fill="#004dff"/><rect x="253.26" y="554.80" width="3.48" height="12.90" fill="#0061ff"/><rect x="256.34" y="554.80" width="3.48" height="12.90" fill="#0000fa"/><rect x="259.42" y="554.80" width="3.48" height="12.90" fill="#0000d1"/><rect x="262.50" y="554.80" width="3.48" height="12.90" fill="#0000e6"/><rect x="265.58" y="554.80" width="3.48" height="12.90" fill="#001aff"/><rect x="268.66" y="554.80" width="3.48" height="12.90" fill="#001aff"/><rect x="271.74" y="554.80" width="3.48" height="12.90" fill="#0000d1"/><rect x="274.82" y="554.80" width="3.48" height="12.90" fill="#0000bd"/><rect x="277.91" y="554.80" width="3.48" height="12.90" fill="#0000bd"/><rect x="280.99" y="554.80" width="3.48" height="12.90" fill="#0000bd"/><rect x="284.07" y="554.80" width="3.48" height="12.90" fill="#0000bd"/><rect x="287.15" y="554.80" width="3.48" height="12.90" fill="#0000bd"/><rect x="290.23" y="554.80" width="3.48" height="12.90" fill="#0000bd"/><rect x="293.31" y="554.80" width="3.48" height="12.90" fill="#0000d1"/><rect x="296.39" y="554.80" width="3.48" height="12.90" fill="#0038ff"/><rect x="299.47" y="554.80" width="3.48" height="12.90" fill="#004dff"/><rect x="302.55" y="554.80" width="3.48" height="12.90" fill="#004dff"/><rect x="305.63" y="554.80" width="3.48" height="12.90" fill="#004dff"/><rect x="308.71" y="554.80" width="3.48" height="12.90" fill="#004dff"/><rect x="311.79" y="554.80" width="3.48" height="12.90" fill="#0000e6"/><rect x="314.87" y="554.80" width="3.48" height="12.90" fill="#0000fa"/><rect x="317.95" y="554.80" width="3.48" height="12.90" fill="#0000fa"/><rect x="321.03" y="554.80" width="3.48" height="12.90" fill="#0000d1"/><rect x="324.11" y="554.80" width="3.48" height="12.90" fill="#001aff"/><rect x="327.19" y="554.80" width="3.48" height="12.90" fill="#0038ff"/><rect x="330.27" y="554.80" width="3.48" height="12.90" fill="#0038ff"/><rect x="333.36" y="554.80" width="3.48" height="12.90" fill="#0000e6"/><rect x="336.44" y="554.80" width="3.48" height="12.90" fill="#0000a8"/><rect x="339.52" y="554.80" width="3.48" height="12.90" fill="#0000bd"/><rect x="342.60" y="554.80" width="3.48" height="12.90" fill="#0080ff"/><rect x="345.68" y="554.80" width="3.48" height="12.90" fill="#0080ff"/><rect x="348.76" y="554.80" width="3.48" height="12.90" fill="#0000d1"/><rect x="351.84" y="554.80" width="3.48" height="12.90" fill="#0000d1"/><rect x="354.92" y="554.80" width="3.48" height="12.90" fill="#0000d1"/><rect x="136.20" y="567.30" width="3.48" height="12.90" fill="#0000d1"/><rect x="139.28" y="567.30" width="3.48" height="12.90" fill="#0000d1"/><rect x="142.36" y="567.30" width="3.48" height="12.90" fill="#0000fa"/><rect x="145.44" y="567.30" width="3.48" height="12.90" fill="#001aff"/><rect x="148.52" y="567.30" width="3.48" height="12.90" fill="#0000e6"/><rect x="151.60" y="567.30" width="3.48" height="12.90" fill="#0000e6"/><rect x="154.68" y="567.30" width="3.48" height="12.90" fill="#001aff"/><rect x="157.76" y="567.30" width="3.48" height="12.90" fill="#004dff"/><rect x="160.84" y="567.30" width="3.48" height="12.90" fill="#001aff"/><rect x="163.92" y="567.30" width="3.48" height="12.90" fill="#0000e6"/><rect x="167.01" y="567.30" width="3.48" height="12.90" fill="#0000e6"/><rect x="170.09" y="567.30" width="3.48" height="12.90" fill="#0000fa"/><rect x="173.17" y="567.30" width="3.48" height="12.90" fill="#0000e6"/><rect x="176.25" y="567.30" width="3.48" height="12.90" fill="#0000d1"/><rect x="179.33" y="567.30" width="3.48" height="12.90" fill="#0000d1"/><rect x="182.41" y="567.30" width="3.48" height="12.90" fill="#05fffa"/><rect x="185.49" y="567.30" width="3.48" height="12.90" fill="#05fffa"/><rect x="188.57" y="567.30" width="3.48" height="12.90" fill="#00e5ff"/><rect x="191.65" y="567.30" width="3.48" height="12.90" fill="#001aff"/><rect x="194.73" y="567.30" width="3.48" height="12.90" fill="#004dff"/><rect x="197.81" y="567.30" width="3.48" height="12.90" fill="#004dff"/><rect x="200.89" y="567.30" width="3.48" height="12.90" fill="#0038ff"/><rect x="203.97" y="567.30" width="3.48" height="12.90" fill="#001aff"/><rect x="207.05" y="567.30" width="3.48" height="12.90" fill="#001aff"/><rect x="210.13" y="567.30" width="3.48" height="12.90" fill="#001aff"/><rect x="213.21" y="567.30" width="3.48" height="12.90" fill="#0000d1"/><rect x="216.29" y="567.30" width="3.48" height="12.90" fill="#0000d1"/><rect x="219.38" y="567.30" width="3.48" height="12.90" fill="#0000d1"/><rect x="222.46" y="567.30" width="3.48" height="12.90" fill="#0000d1"/><rect x="225.54" y="567.30" width="3.48" height="12.90" fill="#0000e6"/><rect x="228.62" y="567.30" width="3.48" height="12.90" fill="#0000e6"/><rect x="231.70" y="567.30" width="3.48" height="12.90" fill="#0000e6"/><rect x="234.78" y="567.30" width="3.48" height="12.90" fill="#0000fa"/><rect x="237.86" y="567.30" width="3.48" height="12.90" fill="#05fffa"/><rect x="240.94" y="567.30" width="3.48" height="12.90" fill="#05fffa"/><rect x="244.02" y="567.30" width="3.48" height="12.90" fill="#00e5ff"/><rect x="247.10" y="567.30" width="3.48" height="12.90" fill="#0000e6"/><rect x="250.18" y="567.30" width="3.48" height="12.90" fill="#0000fa"/><rect x="253.26" y="567.30" width="3.48" height="12.90" fill="#0038ff"/><rect x="256.34" y="567.30" width="3.48" height="12.90" fill="#001aff"/><rect x="259.42" y="567.30" width="3.48" height="12.90" fill="#0000d1"/><rect x="262.50" y="567.30" width="3.48" height="12.90" fill="#0000d1"/><rect x="265.58" y="567.30" width="3.48" height="12.90" fill="#0000bd"/><rect x="268.66" y="567.30" width="3.48" height="12.90" fill="#0000d1"/><rect x="271.74" y="567.30" width="3.48" height="12.90" fill="#001aff"/><rect x="274.82" y="567.30" width="3.48" height="12.90" fill="#001aff"/><rect x="277.91" y="567.30" width="3.48" height="12.90" fill="#004dff"/><rect x="280.99" y="567.30" width="3.48" height="12.90" fill="#0061ff"/><rect x="284.07" y="567.30" width="3.48" height="12.90" fill="#004dff"/><rect x="287.15" y="567.30" width="3.48" height="12.90" fill="#0038ff"/><rect x="290.23" y="567.30" width="3.48" height="12.90" fill="#001aff"/><rect x="293.31" y="567.30" width="3.48" height="12.90" fill="#004dff"/><rect x="296.39" y="567.30" width="3.48" height="12.90" fill="#004dff"/><rect x="299.47" y="567.30" width="3.48" height="12.90" fill="#001aff"/><rect x="302.55" y="567.30" width="3.48" height="12.90" fill="#001aff"/><rect x="305.63" y="567.30" width="3.48" height="12.90" fill="#001aff"/><rect x="308.71" y="567.30" width="3.48" height="12.90" fill="#001aff"/><rect x="311.79" y="567.30" width="3.48" height="12.90" fill="#0000e6"/><rect x="314.87" y="567.30" width="3.48" height="12.90" fill="#0000fa"/><rect x="317.95" y="567.30" width="3.48" height="12.90" fill="#0000e6"/><rect x="321.03" y="567.30" width="3.48" height="12.90" fill="#001aff"/><rect x="324.11" y="567.30" width="3.48" height="12.90" fill="#001aff"/><rect x="327.19" y="567.30" width="3.48" height="12.90" fill="#0000e6"/><rect x="330.27" y="567.30" width="3.48" height="12.90" fill="#0000e6"/><rect x="333.36" y="567.30" width="3.48" height="12.90" fill="#0038ff"/><rect x="336.44" y="567.30" width="3.48" height="12.90" fill="#0038ff"/><rect x="339.52" y="567.30" width="3.48" height="12.90" fill="#001aff"/><rect x="342.60" y="567.30" width="3.48" height="12.90" fill="#0000e6"/><rect x="345.68" y="567.30" width="3.48" height="12.90" fill="#0000d1"/><rect x="348.76" y="567.30" width="3.48" height="12.90" fill="#0000d1"/><rect x="351.84" y="567.30" width="3.48" height="12.90" fill="#0000d1"/><rect x="354.92" y="567.30" width="3.48" height="12.90" fill="#0000d1"/></g><text x="79" y="458" font-family='"Liberation Sans", sans-serif' font-size="23.5" text-anchor="start" fill="#000" >B</text><text x="131" y="491.95" font-family='"Liberation Sans", sans-serif' font-size="12.8" text-anchor="end" fill="#000" >70</text><text x="131" y="516.95" font-family='"Liberation Sans", sans-serif' font-size="12.8" text-anchor="end" fill="#000" >50</text><text x="131" y="541.9499999999999" font-family='"Liberation Sans", sans-serif' font-size="12.8" text-anchor="end" fill="#000" >30</text><text x="131" y="566.9499999999999" font-family='"Liberation Sans", sans-serif' font-size="12.8" text-anchor="end" fill="#000" >10</text><text x="179.5" y="594.3" font-family='"Liberation Sans", sans-serif' font-size="12.5" text-anchor="middle" fill="#000" >1</text><text x="234" y="594.3" font-family='"Liberation Sans", sans-serif' font-size="12.5" text-anchor="middle" fill="#000" >4</text><text x="292.8" y="594.3" font-family='"Liberation Sans", sans-serif' font-size="12.5" text-anchor="middle" fill="#000" >16</text><text x="354.2" y="594.3" font-family='"Liberation Sans", sans-serif' font-size="12.5" text-anchor="middle" fill="#000" >64</text><text x="0" y="0" font-family='"Liberation Sans", sans-serif' font-size="14.5" text-anchor="middle" fill="#000" transform="translate(89.5,530.8) rotate(-90)">Intensity</text><text x="0" y="0" font-family='"Liberation Sans", sans-serif' font-size="14.5" text-anchor="middle" fill="#000" transform="translate(109.8,530.8) rotate(-90)">(dB SPL)</text><text x="247" y="464.8" font-family='"Liberation Serif", serif' font-size="19.5" text-anchor="middle" fill="#000" stroke="#000" stroke-width="0.35">I</text><text x="364.5" y="478.8" font-family='"Liberation Sans", sans-serif' font-size="13" text-anchor="start" fill="#000" >Spikes</text><rect x="375.6" y="496.0" width="12.6" height="83.6" fill="url(#jetv)"/><text x="392" y="503.3" font-family='"Liberation Sans", sans-serif' font-size="12.5" text-anchor="start" fill="#000" >16</text><text x="393.5" y="580.3" font-family='"Liberation Sans", sans-serif' font-size="12.5" text-anchor="start" fill="#000" >0</text><g shape-rendering="crispEdges"><rect x="136.20" y="636.30" width="3.48" height="12.90" fill="#0000a8"/><rect x="139.28" y="636.30" width="3.48" height="12.90" fill="#0000a8"/><rect x="142.36" y="636.30" width="3.48" height="12.90" fill="#0000a8"/><rect x="145.44" y="636.30" width="3.48" height="12.90" fill="#0000a8"/><rect x="148.52" y="636.30" width="3.48" height="12.90" fill="#0000a8"/><rect x="151.60" y="636.30" width="3.48" height="12.90" fill="#0000a8"/><rect x="154.68" y="636.30" width="3.48" height="12.90" fill="#0000a8"/><rect x="157.76" y="636.30" width="3.48" height="12.90" fill="#0000a8"/><rect x="160.84" y="636.30" width="3.48" height="12.90" fill="#0000e6"/><rect x="163.92" y="636.30" width="3.48" height="12.90" fill="#0000fa"/><rect x="167.01" y="636.30" width="3.48" height="12.90" fill="#0000e6"/><rect x="170.09" y="636.30" width="3.48" height="12.90" fill="#0000e6"/><rect x="173.17" y="636.30" width="3.48" height="12.90" fill="#0000fa"/><rect x="176.25" y="636.30" width="3.48" height="12.90" fill="#001aff"/><rect x="179.33" y="636.30" width="3.48" height="12.90" fill="#0000fa"/><rect x="182.41" y="636.30" width="3.48" height="12.90" fill="#001aff"/><rect x="185.49" y="636.30" width="3.48" height="12.90" fill="#004dff"/><rect x="188.57" y="636.30" width="3.48" height="12.90" fill="#00b3ff"/><rect x="191.65" y="636.30" width="3.48" height="12.90" fill="#05fffa"/><rect x="194.73" y="636.30" width="3.48" height="12.90" fill="#80ff80"/><rect x="197.81" y="636.30" width="3.48" height="12.90" fill="#b3ff4c"/><rect x="200.89" y="636.30" width="3.48" height="12.90" fill="#e5ff1a"/><rect x="203.97" y="636.30" width="3.48" height="12.90" fill="#1affe5"/><rect x="207.05" y="636.30" width="3.48" height="12.90" fill="#0080ff"/><rect x="210.13" y="636.30" width="3.48" height="12.90" fill="#1affe5"/><rect x="213.21" y="636.30" width="3.48" height="12.90" fill="#4dffb3"/><rect x="216.29" y="636.30" width="3.48" height="12.90" fill="#1affe5"/><rect x="219.38" y="636.30" width="3.48" height="12.90" fill="#001aff"/><rect x="222.46" y="636.30" width="3.48" height="12.90" fill="#0000e6"/><rect x="225.54" y="636.30" width="3.48" height="12.90" fill="#0000fa"/><rect x="228.62" y="636.30" width="3.48" height="12.90" fill="#0000e6"/><rect x="231.70" y="636.30" width="3.48" height="12.90" fill="#0000e6"/><rect x="234.78" y="636.30" width="3.48" height="12.90" fill="#0000d1"/><rect x="237.86" y="636.30" width="3.48" height="12.90" fill="#0000bd"/><rect x="240.94" y="636.30" width="3.48" height="12.90" fill="#0000d1"/><rect x="244.02" y="636.30" width="3.48" height="12.90" fill="#0000bd"/><rect x="247.10" y="636.30" width="3.48" height="12.90" fill="#0000d1"/><rect x="250.18" y="636.30" width="3.48" height="12.90" fill="#0000e6"/><rect x="253.26" y="636.30" width="3.48" height="12.90" fill="#0000e6"/><rect x="256.34" y="636.30" width="3.48" height="12.90" fill="#0000e6"/><rect x="259.42" y="636.30" width="3.48" height="12.90" fill="#0000e6"/><rect x="262.50" y="636.30" width="3.48" height="12.90" fill="#0000e6"/><rect x="265.58" y="636.30" width="3.48" height="12.90" fill="#0000a8"/><rect x="268.66" y="636.30" width="3.48" height="12.90" fill="#0000a8"/><rect x="271.74" y="636.30" width="3.48" height="12.90" fill="#0000a8"/><rect x="274.82" y="636.30" width="3.48" height="12.90" fill="#0000a8"/><rect x="277.91" y="636.30" width="3.48" height="12.90" fill="#0000a8"/><rect x="280.99" y="636.30" width="3.48" height="12.90" fill="#0000a8"/><rect x="284.07" y="636.30" width="3.48" height="12.90" fill="#0000a8"/><rect x="287.15" y="636.30" width="3.48" height="12.90" fill="#0000a8"/><rect x="290.23" y="636.30" width="3.48" height="12.90" fill="#0000a8"/><rect x="293.31" y="636.30" width="3.48" height="12.90" fill="#0000a8"/><rect x="296.39" y="636.30" width="3.48" height="12.90" fill="#0000a8"/><rect x="299.47" y="636.30" width="3.48" height="12.90" fill="#0000a8"/><rect x="302.55" y="636.30" width="3.48" height="12.90" fill="#0000a8"/><rect x="305.63" y="636.30" width="3.48" height="12.90" fill="#0000a8"/><rect x="308.71" y="636.30" width="3.48" height="12.90" fill="#004dff"/><rect x="311.79" y="636.30" width="3.48" height="12.90" fill="#004dff"/><rect x="314.87" y="636.30" width="3.48" height="12.90" fill="#0000a8"/><rect x="317.95" y="636.30" width="3.48" height="12.90" fill="#0000a8"/><rect x="321.03" y="636.30" width="3.48" height="12.90" fill="#0000a8"/><rect x="324.11" y="636.30" width="3.48" height="12.90" fill="#0000a8"/><rect x="327.19" y="636.30" width="3.48" height="12.90" fill="#0000a8"/><rect x="330.27" y="636.30" width="3.48" height="12.90" fill="#0000a8"/><rect x="333.36" y="636.30" width="3.48" height="12.90" fill="#0000a8"/><rect x="336.44" y="636.30" width="3.48" height="12.90" fill="#004dff"/><rect x="339.52" y="636.30" width="3.48" height="12.90" fill="#004dff"/><rect x="342.60" y="636.30" width="3.48" height="12.90" fill="#004dff"/><rect x="345.68" y="636.30" width="3.48" height="12.90" fill="#0000a8"/><rect x="348.76" y="636.30" width="3.48" height="12.90" fill="#0000a8"/><rect x="351.84" y="636.30" width="3.48" height="12.90" fill="#0000a8"/><rect x="354.92" y="636.30" width="3.48" height="12.90" fill="#0000a8"/><rect x="136.20" y="648.80" width="3.48" height="12.90" fill="#0000a8"/><rect x="139.28" y="648.80" width="3.48" height="12.90" fill="#0000a8"/><rect x="142.36" y="648.80" width="3.48" height="12.90" fill="#0000a8"/><rect x="145.44" y="648.80" width="3.48" height="12.90" fill="#0000a8"/><rect x="148.52" y="648.80" width="3.48" height="12.90" fill="#0000a8"/><rect x="151.60" y="648.80" width="3.48" height="12.90" fill="#0000a8"/><rect x="154.68" y="648.80" width="3.48" height="12.90" fill="#0000a8"/><rect x="157.76" y="648.80" width="3.48" height="12.90" fill="#0000a8"/><rect x="160.84" y="648.80" width="3.48" height="12.90" fill="#0000a8"/><rect x="163.92" y="648.80" width="3.48" height="12.90" fill="#0000a8"/><rect x="167.01" y="648.80" width="3.48" height="12.90" fill="#0000a8"/><rect x="170.09" y="648.80" width="3.48" height="12.90" fill="#0000fa"/><rect x="173.17" y="648.80" width="3.48" height="12.90" fill="#001aff"/><rect x="176.25" y="648.80" width="3.48" height="12.90" fill="#001aff"/><rect x="179.33" y="648.80" width="3.48" height="12.90" fill="#001aff"/><rect x="182.41" y="648.80" width="3.48" height="12.90" fill="#0000fa"/><rect x="185.49" y="648.80" width="3.48" height="12.90" fill="#001aff"/><rect x="188.57" y="648.80" width="3.48" height="12.90" fill="#0000d1"/><rect x="191.65" y="648.80" width="3.48" height="12.90" fill="#001aff"/><rect x="194.73" y="648.80" width="3.48" height="12.90" fill="#1affe5"/><rect x="197.81" y="648.80" width="3.48" height="12.90" fill="#4dffb3"/><rect x="200.89" y="648.80" width="3.48" height="12.90" fill="#80ff80"/><rect x="203.97" y="648.80" width="3.48" height="12.90" fill="#004dff"/><rect x="207.05" y="648.80" width="3.48" height="12.90" fill="#0038ff"/><rect x="210.13" y="648.80" width="3.48" height="12.90" fill="#00e5ff"/><rect x="213.21" y="648.80" width="3.48" height="12.90" fill="#1affe5"/><rect x="216.29" y="648.80" width="3.48" height="12.90" fill="#d1ff2e"/><rect x="219.38" y="648.80" width="3.48" height="12.90" fill="#e5ff1a"/><rect x="222.46" y="648.80" width="3.48" height="12.90" fill="#94ff6b"/><rect x="225.54" y="648.80" width="3.48" height="12.90" fill="#1affe5"/><rect x="228.62" y="648.80" width="3.48" height="12.90" fill="#0000e6"/><rect x="231.70" y="648.80" width="3.48" height="12.90" fill="#0000e6"/><rect x="234.78" y="648.80" width="3.48" height="12.90" fill="#0000d1"/><rect x="237.86" y="648.80" width="3.48" height="12.90" fill="#0000e6"/><rect x="240.94" y="648.80" width="3.48" height="12.90" fill="#0000d1"/><rect x="244.02" y="648.80" width="3.48" height="12.90" fill="#0000e6"/><rect x="247.10" y="648.80" width="3.48" height="12.90" fill="#0000bd"/><rect x="250.18" y="648.80" width="3.48" height="12.90" fill="#0000bd"/><rect x="253.26" y="648.80" width="3.48" height="12.90" fill="#0000a8"/><rect x="256.34" y="648.80" width="3.48" height="12.90" fill="#0000a8"/><rect x="259.42" y="648.80" width="3.48" height="12.90" fill="#0000a8"/><rect x="262.50" y="648.80" width="3.48" height="12.90" fill="#0000a8"/><rect x="265.58" y="648.80" width="3.48" height="12.90" fill="#0000a8"/><rect x="268.66" y="648.80" width="3.48" height="12.90" fill="#0000a8"/><rect x="271.74" y="648.80" width="3.48" height="12.90" fill="#0000a8"/><rect x="274.82" y="648.80" width="3.48" height="12.90" fill="#0000a8"/><rect x="277.91" y="648.80" width="3.48" height="12.90" fill="#0000a8"/><rect x="280.99" y="648.80" width="3.48" height="12.90" fill="#0000a8"/><rect x="284.07" y="648.80" width="3.48" height="12.90" fill="#0000a8"/><rect x="287.15" y="648.80" width="3.48" height="12.90" fill="#0000a8"/><rect x="290.23" y="648.80" width="3.48" height="12.90" fill="#0000a8"/><rect x="293.31" y="648.80" width="3.48" height="12.90" fill="#0000a8"/><rect x="296.39" y="648.80" width="3.48" height="12.90" fill="#0000a8"/><rect x="299.47" y="648.80" width="3.48" height="12.90" fill="#0000a8"/><rect x="302.55" y="648.80" width="3.48" height="12.90" fill="#0000a8"/><rect x="305.63" y="648.80" width="3.48" height="12.90" fill="#0000a8"/><rect x="308.71" y="648.80" width="3.48" height="12.90" fill="#0000a8"/><rect x="311.79" y="648.80" width="3.48" height="12.90" fill="#0000a8"/><rect x="314.87" y="648.80" width="3.48" height="12.90" fill="#0000a8"/><rect x="317.95" y="648.80" width="3.48" height="12.90" fill="#0000a8"/><rect x="321.03" y="648.80" width="3.48" height="12.90" fill="#0000a8"/><rect x="324.11" y="648.80" width="3.48" height="12.90" fill="#0000a8"/><rect x="327.19" y="648.80" width="3.48" height="12.90" fill="#0000a8"/><rect x="330.27" y="648.80" width="3.48" height="12.90" fill="#0000a8"/><rect x="333.36" y="648.80" width="3.48" height="12.90" fill="#0000a8"/><rect x="336.44" y="648.80" width="3.48" height="12.90" fill="#0000a8"/><rect x="339.52" y="648.80" width="3.48" height="12.90" fill="#0000a8"/><rect x="342.60" y="648.80" width="3.48" height="12.90" fill="#0000a8"/><rect x="345.68" y="648.80" width="3.48" height="12.90" fill="#0000a8"/><rect x="348.76" y="648.80" width="3.48" height="12.90" fill="#004dff"/><rect x="351.84" y="648.80" width="3.48" height="12.90" fill="#004dff"/><rect x="354.92" y="648.80" width="3.48" height="12.90" fill="#0000a8"/><rect x="136.20" y="661.30" width="3.48" height="12.90" fill="#0000a8"/><rect x="139.28" y="661.30" width="3.48" height="12.90" fill="#0000a8"/><rect x="142.36" y="661.30" width="3.48" height="12.90" fill="#0000a8"/><rect x="145.44" y="661.30" width="3.48" height="12.90" fill="#0000a8"/><rect x="148.52" y="661.30" width="3.48" height="12.90" fill="#0000a8"/><rect x="151.60" y="661.30" width="3.48" height="12.90" fill="#0000a8"/><rect x="154.68" y="661.30" width="3.48" height="12.90" fill="#0000a8"/><rect x="157.76" y="661.30" width="3.48" height="12.90" fill="#0000a8"/><rect x="160.84" y="661.30" width="3.48" height="12.90" fill="#0000a8"/><rect x="163.92" y="661.30" width="3.48" height="12.90" fill="#0000a8"/><rect x="167.01" y="661.30" width="3.48" height="12.90" fill="#0000a8"/><rect x="170.09" y="661.30" width="3.48" height="12.90" fill="#0000fa"/><rect x="173.17" y="661.30" width="3.48" height="12.90" fill="#001aff"/><rect x="176.25" y="661.30" width="3.48" height="12.90" fill="#001aff"/><rect x="179.33" y="661.30" width="3.48" height="12.90" fill="#001aff"/><rect x="182.41" y="661.30" width="3.48" height="12.90" fill="#05fffa"/><rect x="185.49" y="661.30" width="3.48" height="12.90" fill="#1affe5"/><rect x="188.57" y="661.30" width="3.48" height="12.90" fill="#05fffa"/><rect x="191.65" y="661.30" width="3.48" height="12.90" fill="#1affe5"/><rect x="194.73" y="661.30" width="3.48" height="12.90" fill="#0080ff"/><rect x="197.81" y="661.30" width="3.48" height="12.90" fill="#05fffa"/><rect x="200.89" y="661.30" width="3.48" height="12.90" fill="#4dffb3"/><rect x="203.97" y="661.30" width="3.48" height="12.90" fill="#ffc700"/><rect x="207.05" y="661.30" width="3.48" height="12.90" fill="#ff9e00"/><rect x="210.13" y="661.30" width="3.48" height="12.90" fill="#ff0500"/><rect x="213.21" y="661.30" width="3.48" height="12.90" fill="#ff1a00"/><rect x="216.29" y="661.30" width="3.48" height="12.90" fill="#ff8000"/><rect x="219.38" y="661.30" width="3.48" height="12.90" fill="#b3ff4c"/><rect x="222.46" y="661.30" width="3.48" height="12.90" fill="#00b3ff"/><rect x="225.54" y="661.30" width="3.48" height="12.90" fill="#00e5ff"/><rect x="228.62" y="661.30" width="3.48" height="12.90" fill="#05fffa"/><rect x="231.70" y="661.30" width="3.48" height="12.90" fill="#00c7ff"/><rect x="234.78" y="661.30" width="3.48" height="12.90" fill="#00c7ff"/><rect x="237.86" y="661.30" width="3.48" height="12.90" fill="#00b3ff"/><rect x="240.94" y="661.30" width="3.48" height="12.90" fill="#009eff"/><rect x="244.02" y="661.30" width="3.48" height="12.90" fill="#004dff"/><rect x="247.10" y="661.30" width="3.48" height="12.90" fill="#0000d1"/><rect x="250.18" y="661.30" width="3.48" height="12.90" fill="#0000d1"/><rect x="253.26" y="661.30" width="3.48" height="12.90" fill="#0000a8"/><rect x="256.34" y="661.30" width="3.48" height="12.90" fill="#0000a8"/><rect x="259.42" y="661.30" width="3.48" height="12.90" fill="#0000a8"/><rect x="262.50" y="661.30" width="3.48" height="12.90" fill="#0000a8"/><rect x="265.58" y="661.30" width="3.48" height="12.90" fill="#0000a8"/><rect x="268.66" y="661.30" width="3.48" height="12.90" fill="#0000a8"/><rect x="271.74" y="661.30" width="3.48" height="12.90" fill="#0000a8"/><rect x="274.82" y="661.30" width="3.48" height="12.90" fill="#0000e6"/><rect x="277.91" y="661.30" width="3.48" height="12.90" fill="#0000e6"/><rect x="280.99" y="661.30" width="3.48" height="12.90" fill="#0000a8"/><rect x="284.07" y="661.30" width="3.48" height="12.90" fill="#0000a8"/><rect x="287.15" y="661.30" width="3.48" height="12.90" fill="#0000a8"/><rect x="290.23" y="661.30" width="3.48" height="12.90" fill="#0000e6"/><rect x="293.31" y="661.30" width="3.48" height="12.90" fill="#0000e6"/><rect x="296.39" y="661.30" width="3.48" height="12.90" fill="#0000a8"/><rect x="299.47" y="661.30" width="3.48" height="12.90" fill="#0000a8"/><rect x="302.55" y="661.30" width="3.48" height="12.90" fill="#0000a8"/><rect x="305.63" y="661.30" width="3.48" height="12.90" fill="#0000a8"/><rect x="308.71" y="661.30" width="3.48" height="12.90" fill="#0000a8"/><rect x="311.79" y="661.30" width="3.48" height="12.90" fill="#0000a8"/><rect x="314.87" y="661.30" width="3.48" height="12.90" fill="#0000a8"/><rect x="317.95" y="661.30" width="3.48" height="12.90" fill="#0000a8"/><rect x="321.03" y="661.30" width="3.48" height="12.90" fill="#0000a8"/><rect x="324.11" y="661.30" width="3.48" height="12.90" fill="#0000a8"/><rect x="327.19" y="661.30" width="3.48" height="12.90" fill="#0000a8"/><rect x="330.27" y="661.30" width="3.48" height="12.90" fill="#0000a8"/><rect x="333.36" y="661.30" width="3.48" height="12.90" fill="#0000a8"/><rect x="336.44" y="661.30" width="3.48" height="12.90" fill="#0000a8"/><rect x="339.52" y="661.30" width="3.48" height="12.90" fill="#0000a8"/><rect x="342.60" y="661.30" width="3.48" height="12.90" fill="#0000a8"/><rect x="345.68" y="661.30" width="3.48" height="12.90" fill="#0000a8"/><rect x="348.76" y="661.30" width="3.48" height="12.90" fill="#0000a8"/><rect x="351.84" y="661.30" width="3.48" height="12.90" fill="#0000a8"/><rect x="354.92" y="661.30" width="3.48" height="12.90" fill="#0000a8"/><rect x="136.20" y="673.80" width="3.48" height="12.90" fill="#0000a8"/><rect x="139.28" y="673.80" width="3.48" height="12.90" fill="#0000a8"/><rect x="142.36" y="673.80" width="3.48" height="12.90" fill="#0000a8"/><rect x="145.44" y="673.80" width="3.48" height="12.90" fill="#0000a8"/><rect x="148.52" y="673.80" width="3.48" height="12.90" fill="#0000a8"/><rect x="151.60" y="673.80" width="3.48" height="12.90" fill="#0000e6"/><rect x="154.68" y="673.80" width="3.48" height="12.90" fill="#0000e6"/><rect x="157.76" y="673.80" width="3.48" height="12.90" fill="#0000a8"/><rect x="160.84" y="673.80" width="3.48" height="12.90" fill="#0000a8"/><rect x="163.92" y="673.80" width="3.48" height="12.90" fill="#0000a8"/><rect x="167.01" y="673.80" width="3.48" height="12.90" fill="#0000a8"/><rect x="170.09" y="673.80" width="3.48" height="12.90" fill="#0000a8"/><rect x="173.17" y="673.80" width="3.48" height="12.90" fill="#0000a8"/><rect x="176.25" y="673.80" width="3.48" height="12.90" fill="#0000a8"/><rect x="179.33" y="673.80" width="3.48" height="12.90" fill="#0000bd"/><rect x="182.41" y="673.80" width="3.48" height="12.90" fill="#0000fa"/><rect x="185.49" y="673.80" width="3.48" height="12.90" fill="#001aff"/><rect x="188.57" y="673.80" width="3.48" height="12.90" fill="#05fffa"/><rect x="191.65" y="673.80" width="3.48" height="12.90" fill="#80ff80"/><rect x="194.73" y="673.80" width="3.48" height="12.90" fill="#e5ff1a"/><rect x="197.81" y="673.80" width="3.48" height="12.90" fill="#faff05"/><rect x="200.89" y="673.80" width="3.48" height="12.90" fill="#ff1a00"/><rect x="203.97" y="673.80" width="3.48" height="12.90" fill="#e5ff1a"/><rect x="207.05" y="673.80" width="3.48" height="12.90" fill="#faff05"/><rect x="210.13" y="673.80" width="3.48" height="12.90" fill="#ff9e00"/><rect x="213.21" y="673.80" width="3.48" height="12.90" fill="#ff1a00"/><rect x="216.29" y="673.80" width="3.48" height="12.90" fill="#fa0000"/><rect x="219.38" y="673.80" width="3.48" height="12.90" fill="#ff0500"/><rect x="222.46" y="673.80" width="3.48" height="12.90" fill="#ff8000"/><rect x="225.54" y="673.80" width="3.48" height="12.90" fill="#1affe5"/><rect x="228.62" y="673.80" width="3.48" height="12.90" fill="#1affe5"/><rect x="231.70" y="673.80" width="3.48" height="12.90" fill="#0080ff"/><rect x="234.78" y="673.80" width="3.48" height="12.90" fill="#00e5ff"/><rect x="237.86" y="673.80" width="3.48" height="12.90" fill="#0061ff"/><rect x="240.94" y="673.80" width="3.48" height="12.90" fill="#004dff"/><rect x="244.02" y="673.80" width="3.48" height="12.90" fill="#0038ff"/><rect x="247.10" y="673.80" width="3.48" height="12.90" fill="#0000d1"/><rect x="250.18" y="673.80" width="3.48" height="12.90" fill="#0000d1"/><rect x="253.26" y="673.80" width="3.48" height="12.90" fill="#0000a8"/><rect x="256.34" y="673.80" width="3.48" height="12.90" fill="#0000a8"/><rect x="259.42" y="673.80" width="3.48" height="12.90" fill="#0000a8"/><rect x="262.50" y="673.80" width="3.48" height="12.90" fill="#0000a8"/><rect x="265.58" y="673.80" width="3.48" height="12.90" fill="#0000a8"/><rect x="268.66" y="673.80" width="3.48" height="12.90" fill="#0000a8"/><rect x="271.74" y="673.80" width="3.48" height="12.90" fill="#0000a8"/><rect x="274.82" y="673.80" width="3.48" height="12.90" fill="#0000a8"/><rect x="277.91" y="673.80" width="3.48" height="12.90" fill="#0000a8"/><rect x="280.99" y="673.80" width="3.48" height="12.90" fill="#0000d1"/><rect x="284.07" y="673.80" width="3.48" height="12.90" fill="#0000d1"/><rect x="287.15" y="673.80" width="3.48" height="12.90" fill="#0000a8"/><rect x="290.23" y="673.80" width="3.48" height="12.90" fill="#0000a8"/><rect x="293.31" y="673.80" width="3.48" height="12.90" fill="#0000a8"/><rect x="296.39" y="673.80" width="3.48" height="12.90" fill="#0000a8"/><rect x="299.47" y="673.80" width="3.48" height="12.90" fill="#0000a8"/><rect x="302.55" y="673.80" width="3.48" height="12.90" fill="#0000a8"/><rect x="305.63" y="673.80" width="3.48" height="12.90" fill="#0000a8"/><rect x="308.71" y="673.80" width="3.48" height="12.90" fill="#0000a8"/><rect x="311.79" y="673.80" width="3.48" height="12.90" fill="#0000a8"/><rect x="314.87" y="673.80" width="3.48" height="12.90" fill="#0000a8"/><rect x="317.95" y="673.80" width="3.48" height="12.90" fill="#0000e6"/><rect x="321.03" y="673.80" width="3.48" height="12.90" fill="#0000e6"/><rect x="324.11" y="673.80" width="3.48" height="12.90" fill="#0000a8"/><rect x="327.19" y="673.80" width="3.48" height="12.90" fill="#0000a8"/><rect x="330.27" y="673.80" width="3.48" height="12.90" fill="#0000a8"/><rect x="333.36" y="673.80" width="3.48" height="12.90" fill="#0000a8"/><rect x="336.44" y="673.80" width="3.48" height="12.90" fill="#0000a8"/><rect x="339.52" y="673.80" width="3.48" height="12.90" fill="#0000a8"/><rect x="342.60" y="673.80" width="3.48" height="12.90" fill="#0000a8"/><rect x="345.68" y="673.80" width="3.48" height="12.90" fill="#0000a8"/><rect x="348.76" y="673.80" width="3.48" height="12.90" fill="#0000a8"/><rect x="351.84" y="673.80" width="3.48" height="12.90" fill="#0000a8"/><rect x="354.92" y="673.80" width="3.48" height="12.90" fill="#0000a8"/><rect x="136.20" y="686.30" width="3.48" height="12.90" fill="#0000a8"/><rect x="139.28" y="686.30" width="3.48" height="12.90" fill="#0000a8"/><rect x="142.36" y="686.30" width="3.48" height="12.90" fill="#0000a8"/><rect x="145.44" y="686.30" width="3.48" height="12.90" fill="#0000a8"/><rect x="148.52" y="686.30" width="3.48" height="12.90" fill="#0000a8"/><rect x="151.60" y="686.30" width="3.48" height="12.90" fill="#0000a8"/><rect x="154.68" y="686.30" width="3.48" height="12.90" fill="#0000a8"/><rect x="157.76" y="686.30" width="3.48" height="12.90" fill="#0000a8"/><rect x="160.84" y="686.30" width="3.48" height="12.90" fill="#0000a8"/><rect x="163.92" y="686.30" width="3.48" height="12.90" fill="#0000e6"/><rect x="167.01" y="686.30" width="3.48" height="12.90" fill="#0000e6"/><rect x="170.09" y="686.30" width="3.48" height="12.90" fill="#0000a8"/><rect x="173.17" y="686.30" width="3.48" height="12.90" fill="#0000a8"/><rect x="176.25" y="686.30" width="3.48" height="12.90" fill="#0000a8"/><rect x="179.33" y="686.30" width="3.48" height="12.90" fill="#0000a8"/><rect x="182.41" y="686.30" width="3.48" height="12.90" fill="#0000a8"/><rect x="185.49" y="686.30" width="3.48" height="12.90" fill="#0000a8"/><rect x="188.57" y="686.30" width="3.48" height="12.90" fill="#0000a8"/><rect x="191.65" y="686.30" width="3.48" height="12.90" fill="#0000d1"/><rect x="194.73" y="686.30" width="3.48" height="12.90" fill="#0000e6"/><rect x="197.81" y="686.30" width="3.48" height="12.90" fill="#0000d1"/><rect x="200.89" y="686.30" width="3.48" height="12.90" fill="#0000d1"/><rect x="203.97" y="686.30" width="3.48" height="12.90" fill="#0000bd"/><rect x="207.05" y="686.30" width="3.48" height="12.90" fill="#0000e6"/><rect x="210.13" y="686.30" width="3.48" height="12.90" fill="#0000bd"/><rect x="213.21" y="686.30" width="3.48" height="12.90" fill="#001aff"/><rect x="216.29" y="686.30" width="3.48" height="12.90" fill="#faff05"/><rect x="219.38" y="686.30" width="3.48" height="12.90" fill="#ffc700"/><rect x="222.46" y="686.30" width="3.48" height="12.90" fill="#ff2e00"/><rect x="225.54" y="686.30" width="3.48" height="12.90" fill="#faff05"/><rect x="228.62" y="686.30" width="3.48" height="12.90" fill="#ff9e00"/><rect x="231.70" y="686.30" width="3.48" height="12.90" fill="#b3ff4c"/><rect x="234.78" y="686.30" width="3.48" height="12.90" fill="#05fffa"/><rect x="237.86" y="686.30" width="3.48" height="12.90" fill="#00b3ff"/><rect x="240.94" y="686.30" width="3.48" height="12.90" fill="#004dff"/><rect x="244.02" y="686.30" width="3.48" height="12.90" fill="#0080ff"/><rect x="247.10" y="686.30" width="3.48" height="12.90" fill="#00b3ff"/><rect x="250.18" y="686.30" width="3.48" height="12.90" fill="#004dff"/><rect x="253.26" y="686.30" width="3.48" height="12.90" fill="#0000a8"/><rect x="256.34" y="686.30" width="3.48" height="12.90" fill="#0000a8"/><rect x="259.42" y="686.30" width="3.48" height="12.90" fill="#0000a8"/><rect x="262.50" y="686.30" width="3.48" height="12.90" fill="#0000a8"/><rect x="265.58" y="686.30" width="3.48" height="12.90" fill="#0000bd"/><rect x="268.66" y="686.30" width="3.48" height="12.90" fill="#0000bd"/><rect x="271.74" y="686.30" width="3.48" height="12.90" fill="#0000a8"/><rect x="274.82" y="686.30" width="3.48" height="12.90" fill="#0000a8"/><rect x="277.91" y="686.30" width="3.48" height="12.90" fill="#0000a8"/><rect x="280.99" y="686.30" width="3.48" height="12.90" fill="#0000a8"/><rect x="284.07" y="686.30" width="3.48" height="12.90" fill="#0000a8"/><rect x="287.15" y="686.30" width="3.48" height="12.90" fill="#0000e6"/><rect x="290.23" y="686.30" width="3.48" height="12.90" fill="#0000e6"/><rect x="293.31" y="686.30" width="3.48" height="12.90" fill="#0000e6"/><rect x="296.39" y="686.30" width="3.48" height="12.90" fill="#0000e6"/><rect x="299.47" y="686.30" width="3.48" height="12.90" fill="#0000e6"/><rect x="302.55" y="686.30" width="3.48" height="12.90" fill="#0000a8"/><rect x="305.63" y="686.30" width="3.48" height="12.90" fill="#0000a8"/><rect x="308.71" y="686.30" width="3.48" height="12.90" fill="#0000a8"/><rect x="311.79" y="686.30" width="3.48" height="12.90" fill="#0000a8"/><rect x="314.87" y="686.30" width="3.48" height="12.90" fill="#0000a8"/><rect x="317.95" y="686.30" width="3.48" height="12.90" fill="#0000a8"/><rect x="321.03" y="686.30" width="3.48" height="12.90" fill="#0061ff"/><rect x="324.11" y="686.30" width="3.48" height="12.90" fill="#0061ff"/><rect x="327.19" y="686.30" width="3.48" height="12.90" fill="#0000a8"/><rect x="330.27" y="686.30" width="3.48" height="12.90" fill="#0000a8"/><rect x="333.36" y="686.30" width="3.48" height="12.90" fill="#0000a8"/><rect x="336.44" y="686.30" width="3.48" height="12.90" fill="#0061ff"/><rect x="339.52" y="686.30" width="3.48" height="12.90" fill="#0061ff"/><rect x="342.60" y="686.30" width="3.48" height="12.90" fill="#0061ff"/><rect x="345.68" y="686.30" width="3.48" height="12.90" fill="#0000a8"/><rect x="348.76" y="686.30" width="3.48" height="12.90" fill="#0000a8"/><rect x="351.84" y="686.30" width="3.48" height="12.90" fill="#0000a8"/><rect x="354.92" y="686.30" width="3.48" height="12.90" fill="#0000a8"/><rect x="136.20" y="698.80" width="3.48" height="12.90" fill="#0000a8"/><rect x="139.28" y="698.80" width="3.48" height="12.90" fill="#0000a8"/><rect x="142.36" y="698.80" width="3.48" height="12.90" fill="#0000a8"/><rect x="145.44" y="698.80" width="3.48" height="12.90" fill="#0000a8"/><rect x="148.52" y="698.80" width="3.48" height="12.90" fill="#0000a8"/><rect x="151.60" y="698.80" width="3.48" height="12.90" fill="#0000a8"/><rect x="154.68" y="698.80" width="3.48" height="12.90" fill="#001aff"/><rect x="157.76" y="698.80" width="3.48" height="12.90" fill="#0038ff"/><rect x="160.84" y="698.80" width="3.48" height="12.90" fill="#001aff"/><rect x="163.92" y="698.80" width="3.48" height="12.90" fill="#0000d1"/><rect x="167.01" y="698.80" width="3.48" height="12.90" fill="#0000d1"/><rect x="170.09" y="698.80" width="3.48" height="12.90" fill="#001aff"/><rect x="173.17" y="698.80" width="3.48" height="12.90" fill="#004dff"/><rect x="176.25" y="698.80" width="3.48" height="12.90" fill="#004dff"/><rect x="179.33" y="698.80" width="3.48" height="12.90" fill="#001aff"/><rect x="182.41" y="698.80" width="3.48" height="12.90" fill="#0000a8"/><rect x="185.49" y="698.80" width="3.48" height="12.90" fill="#0000a8"/><rect x="188.57" y="698.80" width="3.48" height="12.90" fill="#0000a8"/><rect x="191.65" y="698.80" width="3.48" height="12.90" fill="#0000a8"/><rect x="194.73" y="698.80" width="3.48" height="12.90" fill="#0000a8"/><rect x="197.81" y="698.80" width="3.48" height="12.90" fill="#0000a8"/><rect x="200.89" y="698.80" width="3.48" height="12.90" fill="#0000a8"/><rect x="203.97" y="698.80" width="3.48" height="12.90" fill="#0000a8"/><rect x="207.05" y="698.80" width="3.48" height="12.90" fill="#0000a8"/><rect x="210.13" y="698.80" width="3.48" height="12.90" fill="#0000a8"/><rect x="213.21" y="698.80" width="3.48" height="12.90" fill="#0000a8"/><rect x="216.29" y="698.80" width="3.48" height="12.90" fill="#0000a8"/><rect x="219.38" y="698.80" width="3.48" height="12.90" fill="#0000a8"/><rect x="222.46" y="698.80" width="3.48" height="12.90" fill="#0000a8"/><rect x="225.54" y="698.80" width="3.48" height="12.90" fill="#0000bd"/><rect x="228.62" y="698.80" width="3.48" height="12.90" fill="#004dff"/><rect x="231.70" y="698.80" width="3.48" height="12.90" fill="#0061ff"/><rect x="234.78" y="698.80" width="3.48" height="12.90" fill="#0000d1"/><rect x="237.86" y="698.80" width="3.48" height="12.90" fill="#0000a8"/><rect x="240.94" y="698.80" width="3.48" height="12.90" fill="#0000a8"/><rect x="244.02" y="698.80" width="3.48" height="12.90" fill="#0000a8"/><rect x="247.10" y="698.80" width="3.48" height="12.90" fill="#0000a8"/><rect x="250.18" y="698.80" width="3.48" height="12.90" fill="#0000a8"/><rect x="253.26" y="698.80" width="3.48" height="12.90" fill="#0000a8"/><rect x="256.34" y="698.80" width="3.48" height="12.90" fill="#0000a8"/><rect x="259.42" y="698.80" width="3.48" height="12.90" fill="#0000a8"/><rect x="262.50" y="698.80" width="3.48" height="12.90" fill="#0000a8"/><rect x="265.58" y="698.80" width="3.48" height="12.90" fill="#0000b3"/><rect x="268.66" y="698.80" width="3.48" height="12.90" fill="#0000b3"/><rect x="271.74" y="698.80" width="3.48" height="12.90" fill="#0000a8"/><rect x="274.82" y="698.80" width="3.48" height="12.90" fill="#0000a8"/><rect x="277.91" y="698.80" width="3.48" height="12.90" fill="#0000a8"/><rect x="280.99" y="698.80" width="3.48" height="12.90" fill="#0000a8"/><rect x="284.07" y="698.80" width="3.48" height="12.90" fill="#0000a8"/><rect x="287.15" y="698.80" width="3.48" height="12.90" fill="#0000a8"/><rect x="290.23" y="698.80" width="3.48" height="12.90" fill="#0000a8"/><rect x="293.31" y="698.80" width="3.48" height="12.90" fill="#0000a8"/><rect x="296.39" y="698.80" width="3.48" height="12.90" fill="#0000a8"/><rect x="299.47" y="698.80" width="3.48" height="12.90" fill="#0000a8"/><rect x="302.55" y="698.80" width="3.48" height="12.90" fill="#0000a8"/><rect x="305.63" y="698.80" width="3.48" height="12.90" fill="#0000a8"/><rect x="308.71" y="698.80" width="3.48" height="12.90" fill="#0000a8"/><rect x="311.79" y="698.80" width="3.48" height="12.90" fill="#0000a8"/><rect x="314.87" y="698.80" width="3.48" height="12.90" fill="#0000a8"/><rect x="317.95" y="698.80" width="3.48" height="12.90" fill="#0000a8"/><rect x="321.03" y="698.80" width="3.48" height="12.90" fill="#0000a8"/><rect x="324.11" y="698.80" width="3.48" height="12.90" fill="#0000a8"/><rect x="327.19" y="698.80" width="3.48" height="12.90" fill="#0000a8"/><rect x="330.27" y="698.80" width="3.48" height="12.90" fill="#0000a8"/><rect x="333.36" y="698.80" width="3.48" height="12.90" fill="#0000a8"/><rect x="336.44" y="698.80" width="3.48" height="12.90" fill="#0000a8"/><rect x="339.52" y="698.80" width="3.48" height="12.90" fill="#0000a8"/><rect x="342.60" y="698.80" width="3.48" height="12.90" fill="#0000a8"/><rect x="345.68" y="698.80" width="3.48" height="12.90" fill="#0000e6"/><rect x="348.76" y="698.80" width="3.48" height="12.90" fill="#0000e6"/><rect x="351.84" y="698.80" width="3.48" height="12.90" fill="#0000e6"/><rect x="354.92" y="698.80" width="3.48" height="12.90" fill="#0000a8"/><rect x="136.20" y="711.30" width="3.48" height="12.90" fill="#0000fa"/><rect x="139.28" y="711.30" width="3.48" height="12.90" fill="#0000a8"/><rect x="142.36" y="711.30" width="3.48" height="12.90" fill="#0000a8"/><rect x="145.44" y="711.30" width="3.48" height="12.90" fill="#0000a8"/><rect x="148.52" y="711.30" width="3.48" height="12.90" fill="#0000a8"/><rect x="151.60" y="711.30" width="3.48" height="12.90" fill="#0000a8"/><rect x="154.68" y="711.30" width="3.48" height="12.90" fill="#0000a8"/><rect x="157.76" y="711.30" width="3.48" height="12.90" fill="#0000a8"/><rect x="160.84" y="711.30" width="3.48" height="12.90" fill="#0000a8"/><rect x="163.92" y="711.30" width="3.48" height="12.90" fill="#0000a8"/><rect x="167.01" y="711.30" width="3.48" height="12.90" fill="#0000a8"/><rect x="170.09" y="711.30" width="3.48" height="12.90" fill="#0000a8"/><rect x="173.17" y="711.30" width="3.48" height="12.90" fill="#0000e6"/><rect x="176.25" y="711.30" width="3.48" height="12.90" fill="#0000e6"/><rect x="179.33" y="711.30" width="3.48" height="12.90" fill="#0000e6"/><rect x="182.41" y="711.30" width="3.48" height="12.90" fill="#0000a8"/><rect x="185.49" y="711.30" width="3.48" height="12.90" fill="#0000a8"/><rect x="188.57" y="711.30" width="3.48" height="12.90" fill="#0000a8"/><rect x="191.65" y="711.30" width="3.48" height="12.90" fill="#0000a8"/><rect x="194.73" y="711.30" width="3.48" height="12.90" fill="#0000a8"/><rect x="197.81" y="711.30" width="3.48" height="12.90" fill="#0000a8"/><rect x="200.89" y="711.30" width="3.48" height="12.90" fill="#0000a8"/><rect x="203.97" y="711.30" width="3.48" height="12.90" fill="#0000e6"/><rect x="207.05" y="711.30" width="3.48" height="12.90" fill="#0000e6"/><rect x="210.13" y="711.30" width="3.48" height="12.90" fill="#0000a8"/><rect x="213.21" y="711.30" width="3.48" height="12.90" fill="#0000a8"/><rect x="216.29" y="711.30" width="3.48" height="12.90" fill="#001aff"/><rect x="219.38" y="711.30" width="3.48" height="12.90" fill="#001aff"/><rect x="222.46" y="711.30" width="3.48" height="12.90" fill="#001aff"/><rect x="225.54" y="711.30" width="3.48" height="12.90" fill="#0000bd"/><rect x="228.62" y="711.30" width="3.48" height="12.90" fill="#0000a8"/><rect x="231.70" y="711.30" width="3.48" height="12.90" fill="#0000a8"/><rect x="234.78" y="711.30" width="3.48" height="12.90" fill="#0000d1"/><rect x="237.86" y="711.30" width="3.48" height="12.90" fill="#0000e6"/><rect x="240.94" y="711.30" width="3.48" height="12.90" fill="#0000e6"/><rect x="244.02" y="711.30" width="3.48" height="12.90" fill="#0000a8"/><rect x="247.10" y="711.30" width="3.48" height="12.90" fill="#0000a8"/><rect x="250.18" y="711.30" width="3.48" height="12.90" fill="#0000a8"/><rect x="253.26" y="711.30" width="3.48" height="12.90" fill="#0000a8"/><rect x="256.34" y="711.30" width="3.48" height="12.90" fill="#0000a8"/><rect x="259.42" y="711.30" width="3.48" height="12.90" fill="#0000a8"/><rect x="262.50" y="711.30" width="3.48" height="12.90" fill="#0000fa"/><rect x="265.58" y="711.30" width="3.48" height="12.90" fill="#0038ff"/><rect x="268.66" y="711.30" width="3.48" height="12.90" fill="#0000fa"/><rect x="271.74" y="711.30" width="3.48" height="12.90" fill="#0000a8"/><rect x="274.82" y="711.30" width="3.48" height="12.90" fill="#0000a8"/><rect x="277.91" y="711.30" width="3.48" height="12.90" fill="#0000a8"/><rect x="280.99" y="711.30" width="3.48" height="12.90" fill="#0000a8"/><rect x="284.07" y="711.30" width="3.48" height="12.90" fill="#0000a8"/><rect x="287.15" y="711.30" width="3.48" height="12.90" fill="#0000a8"/><rect x="290.23" y="711.30" width="3.48" height="12.90" fill="#0000a8"/><rect x="293.31" y="711.30" width="3.48" height="12.90" fill="#0000a8"/><rect x="296.39" y="711.30" width="3.48" height="12.90" fill="#0000a8"/><rect x="299.47" y="711.30" width="3.48" height="12.90" fill="#0000a8"/><rect x="302.55" y="711.30" width="3.48" height="12.90" fill="#0000a8"/><rect x="305.63" y="711.30" width="3.48" height="12.90" fill="#0000a8"/><rect x="308.71" y="711.30" width="3.48" height="12.90" fill="#0000a8"/><rect x="311.79" y="711.30" width="3.48" height="12.90" fill="#0000e6"/><rect x="314.87" y="711.30" width="3.48" height="12.90" fill="#0000e6"/><rect x="317.95" y="711.30" width="3.48" height="12.90" fill="#0000a8"/><rect x="321.03" y="711.30" width="3.48" height="12.90" fill="#0000a8"/><rect x="324.11" y="711.30" width="3.48" height="12.90" fill="#0000a8"/><rect x="327.19" y="711.30" width="3.48" height="12.90" fill="#0000a8"/><rect x="330.27" y="711.30" width="3.48" height="12.90" fill="#0000a8"/><rect x="333.36" y="711.30" width="3.48" height="12.90" fill="#0000a8"/><rect x="336.44" y="711.30" width="3.48" height="12.90" fill="#0000a8"/><rect x="339.52" y="711.30" width="3.48" height="12.90" fill="#0000a8"/><rect x="342.60" y="711.30" width="3.48" height="12.90" fill="#0000a8"/><rect x="345.68" y="711.30" width="3.48" height="12.90" fill="#0000a8"/><rect x="348.76" y="711.30" width="3.48" height="12.90" fill="#0000a8"/><rect x="351.84" y="711.30" width="3.48" height="12.90" fill="#0000a8"/><rect x="354.92" y="711.30" width="3.48" height="12.90" fill="#0000a8"/><rect x="136.20" y="723.80" width="3.48" height="12.90" fill="#0000a8"/><rect x="139.28" y="723.80" width="3.48" height="12.90" fill="#0000a8"/><rect x="142.36" y="723.80" width="3.48" height="12.90" fill="#0000a8"/><rect x="145.44" y="723.80" width="3.48" height="12.90" fill="#0000a8"/><rect x="148.52" y="723.80" width="3.48" height="12.90" fill="#0000a8"/><rect x="151.60" y="723.80" width="3.48" height="12.90" fill="#0000a8"/><rect x="154.68" y="723.80" width="3.48" height="12.90" fill="#0000a8"/><rect x="157.76" y="723.80" width="3.48" height="12.90" fill="#0000a8"/><rect x="160.84" y="723.80" width="3.48" height="12.90" fill="#0000a8"/><rect x="163.92" y="723.80" width="3.48" height="12.90" fill="#0000a8"/><rect x="167.01" y="723.80" width="3.48" height="12.90" fill="#0000a8"/><rect x="170.09" y="723.80" width="3.48" height="12.90" fill="#0000a8"/><rect x="173.17" y="723.80" width="3.48" height="12.90" fill="#0000a8"/><rect x="176.25" y="723.80" width="3.48" height="12.90" fill="#0000a8"/><rect x="179.33" y="723.80" width="3.48" height="12.90" fill="#0000a8"/><rect x="182.41" y="723.80" width="3.48" height="12.90" fill="#0000a8"/><rect x="185.49" y="723.80" width="3.48" height="12.90" fill="#0000a8"/><rect x="188.57" y="723.80" width="3.48" height="12.90" fill="#0000a8"/><rect x="191.65" y="723.80" width="3.48" height="12.90" fill="#0000a8"/><rect x="194.73" y="723.80" width="3.48" height="12.90" fill="#0000a8"/><rect x="197.81" y="723.80" width="3.48" height="12.90" fill="#0000a8"/><rect x="200.89" y="723.80" width="3.48" height="12.90" fill="#0000a8"/><rect x="203.97" y="723.80" width="3.48" height="12.90" fill="#0000a8"/><rect x="207.05" y="723.80" width="3.48" height="12.90" fill="#0000a8"/><rect x="210.13" y="723.80" width="3.48" height="12.90" fill="#0000a8"/><rect x="213.21" y="723.80" width="3.48" height="12.90" fill="#0000a8"/><rect x="216.29" y="723.80" width="3.48" height="12.90" fill="#0000a8"/><rect x="219.38" y="723.80" width="3.48" height="12.90" fill="#0000a8"/><rect x="222.46" y="723.80" width="3.48" height="12.90" fill="#0000a8"/><rect x="225.54" y="723.80" width="3.48" height="12.90" fill="#0000a8"/><rect x="228.62" y="723.80" width="3.48" height="12.90" fill="#0000a8"/><rect x="231.70" y="723.80" width="3.48" height="12.90" fill="#0000a8"/><rect x="234.78" y="723.80" width="3.48" height="12.90" fill="#0000a8"/><rect x="237.86" y="723.80" width="3.48" height="12.90" fill="#0000a8"/><rect x="240.94" y="723.80" width="3.48" height="12.90" fill="#0000a8"/><rect x="244.02" y="723.80" width="3.48" height="12.90" fill="#0000a8"/><rect x="247.10" y="723.80" width="3.48" height="12.90" fill="#0000a8"/><rect x="250.18" y="723.80" width="3.48" height="12.90" fill="#0000a8"/><rect x="253.26" y="723.80" width="3.48" height="12.90" fill="#0000d1"/><rect x="256.34" y="723.80" width="3.48" height="12.90" fill="#0000d1"/><rect x="259.42" y="723.80" width="3.48" height="12.90" fill="#0000a8"/><rect x="262.50" y="723.80" width="3.48" height="12.90" fill="#0000a8"/><rect x="265.58" y="723.80" width="3.48" height="12.90" fill="#0000a8"/><rect x="268.66" y="723.80" width="3.48" height="12.90" fill="#0000a8"/><rect x="271.74" y="723.80" width="3.48" height="12.90" fill="#0000a8"/><rect x="274.82" y="723.80" width="3.48" height="12.90" fill="#0000a8"/><rect x="277.91" y="723.80" width="3.48" height="12.90" fill="#0000a8"/><rect x="280.99" y="723.80" width="3.48" height="12.90" fill="#0000a8"/><rect x="284.07" y="723.80" width="3.48" height="12.90" fill="#0000a8"/><rect x="287.15" y="723.80" width="3.48" height="12.90" fill="#0000a8"/><rect x="290.23" y="723.80" width="3.48" height="12.90" fill="#0000a8"/><rect x="293.31" y="723.80" width="3.48" height="12.90" fill="#0000d1"/><rect x="296.39" y="723.80" width="3.48" height="12.90" fill="#0000d1"/><rect x="299.47" y="723.80" width="3.48" height="12.90" fill="#0000d1"/><rect x="302.55" y="723.80" width="3.48" height="12.90" fill="#0000a8"/><rect x="305.63" y="723.80" width="3.48" height="12.90" fill="#0000a8"/><rect x="308.71" y="723.80" width="3.48" height="12.90" fill="#0000a8"/><rect x="311.79" y="723.80" width="3.48" height="12.90" fill="#0000a8"/><rect x="314.87" y="723.80" width="3.48" height="12.90" fill="#0000a8"/><rect x="317.95" y="723.80" width="3.48" height="12.90" fill="#0000a8"/><rect x="321.03" y="723.80" width="3.48" height="12.90" fill="#0000a8"/><rect x="324.11" y="723.80" width="3.48" height="12.90" fill="#0000a8"/><rect x="327.19" y="723.80" width="3.48" height="12.90" fill="#0000a8"/><rect x="330.27" y="723.80" width="3.48" height="12.90" fill="#0000a8"/><rect x="333.36" y="723.80" width="3.48" height="12.90" fill="#0000a8"/><rect x="336.44" y="723.80" width="3.48" height="12.90" fill="#0000a8"/><rect x="339.52" y="723.80" width="3.48" height="12.90" fill="#0000a8"/><rect x="342.60" y="723.80" width="3.48" height="12.90" fill="#0000a8"/><rect x="345.68" y="723.80" width="3.48" height="12.90" fill="#0000a8"/><rect x="348.76" y="723.80" width="3.48" height="12.90" fill="#0000a8"/><rect x="351.84" y="723.80" width="3.48" height="12.90" fill="#0000a8"/><rect x="354.92" y="723.80" width="3.48" height="12.90" fill="#0000a8"/></g><text x="79" y="629" font-family='"Liberation Sans", sans-serif' font-size="23.5" text-anchor="start" fill="#000" >C</text><text x="131" y="648.4499999999999" font-family='"Liberation Sans", sans-serif' font-size="12.8" text-anchor="end" fill="#000" >70</text><text x="131" y="673.4499999999999" font-family='"Liberation Sans", sans-serif' font-size="12.8" text-anchor="end" fill="#000" >50</text><text x="131" y="698.4499999999999" font-family='"Liberation Sans", sans-serif' font-size="12.8" text-anchor="end" fill="#000" >30</text><text x="131" y="723.4499999999999" font-family='"Liberation Sans", sans-serif' font-size="12.8" text-anchor="end" fill="#000" >10</text><text x="179.5" y="750.8" font-family='"Liberation Sans", sans-serif' font-size="12.5" text-anchor="middle" fill="#000" >1</text><text x="234" y="750.8" font-family='"Liberation Sans", sans-serif' font-size="12.5" text-anchor="middle" fill="#000" >4</text><text x="292.8" y="750.8" font-family='"Liberation Sans", sans-serif' font-size="12.5" text-anchor="middle" fill="#000" >16</text><text x="354.2" y="750.8" font-family='"Liberation Sans", sans-serif' font-size="12.5" text-anchor="middle" fill="#000" >64</text><text x="0" y="0" font-family='"Liberation Sans", sans-serif' font-size="14.5" text-anchor="middle" fill="#000" transform="translate(89.5,687.3) rotate(-90)">Intensity</text><text x="0" y="0" font-family='"Liberation Sans", sans-serif' font-size="14.5" text-anchor="middle" fill="#000" transform="translate(109.8,687.3) rotate(-90)">(dB SPL)</text><text x="244" y="622.8" font-family='"Liberation Serif", serif' font-size="19.5" text-anchor="middle" fill="#000" stroke="#000" stroke-width="0.35">II</text><text x="364.5" y="635.3" font-family='"Liberation Sans", sans-serif' font-size="13" text-anchor="start" fill="#000" >Spikes</text><rect x="375.6" y="652.5" width="12.6" height="83.6" fill="url(#jetv)"/><text x="392" y="659.8" font-family='"Liberation Sans", sans-serif' font-size="12.5" text-anchor="start" fill="#000" >16</text><text x="393.5" y="736.8" font-family='"Liberation Sans", sans-serif' font-size="12.5" text-anchor="start" fill="#000" >0</text><text x="254" y="772.5" font-family='"Liberation Sans", sans-serif' font-size="14.5" text-anchor="middle" fill="#000" >Tone Frequency (kHz)</text><polyline points="487.9,450.8 487.9,575.5 623,575.5" fill="none" stroke="#555" stroke-width="1"/><line x1="485.29999999999995" y1="553.6" x2="487.9" y2="553.6" stroke="#555" stroke-width="1"/><text x="481.9" y="558.3000000000001" font-family='"Liberation Sans", sans-serif' font-size="13.5" text-anchor="end" fill="#000" >0.2</text><line x1="485.29999999999995" y1="530.7" x2="487.9" y2="530.7" stroke="#555" stroke-width="1"/><text x="481.9" y="535.4000000000001" font-family='"Liberation Sans", sans-serif' font-size="13.5" text-anchor="end" fill="#000" >0.4</text><line x1="485.29999999999995" y1="507.8" x2="487.9" y2="507.8" stroke="#555" stroke-width="1"/><text x="481.9" y="512.5" font-family='"Liberation Sans", sans-serif' font-size="13.5" text-anchor="end" fill="#000" >0.6</text><line x1="485.29999999999995" y1="484.9" x2="487.9" y2="484.9" stroke="#555" stroke-width="1"/><text x="481.9" y="489.59999999999997" font-family='"Liberation Sans", sans-serif' font-size="13.5" text-anchor="end" fill="#000" >0.8</text><line x1="485.29999999999995" y1="462.0" x2="487.9" y2="462.0" stroke="#555" stroke-width="1"/><text x="481.9" y="466.7" font-family='"Liberation Sans", sans-serif' font-size="13.5" text-anchor="end" fill="#000" >1.0</text><line x1="513.2" y1="575.5" x2="513.2" y2="578.2" stroke="#555" stroke-width="1"/><text x="513.2" y="595.0" font-family='"Liberation Sans", sans-serif' font-size="13.5" text-anchor="middle" fill="#000" >-60</text><line x1="547.0" y1="575.5" x2="547.0" y2="578.2" stroke="#555" stroke-width="1"/><text x="547.0" y="595.0" font-family='"Liberation Sans", sans-serif' font-size="13.5" text-anchor="middle" fill="#000" >-40</text><line x1="580.8" y1="575.5" x2="580.8" y2="578.2" stroke="#555" stroke-width="1"/><text x="580.8000000000001" y="595.0" font-family='"Liberation Sans", sans-serif' font-size="13.5" text-anchor="middle" fill="#000" >-20</text><line x1="614.6" y1="575.5" x2="614.6" y2="578.2" stroke="#555" stroke-width="1"/><text x="614.6" y="595.0" font-family='"Liberation Sans", sans-serif' font-size="13.5" text-anchor="middle" fill="#000" >0</text><polyline points="496.3,573.1 513.2,557.0 530.1,529.6 547.0,517.0 563.9,484.9 580.8,490.6 597.7,479.2 614.6,475.7" fill="none" stroke="#111" stroke-width="1.2"/><g stroke="#111" stroke-width="1"><line x1="496.3" y1="573.1" x2="496.3" y2="573.1"/><line x1="493.5" y1="573.1" x2="499.1" y2="573.1"/><line x1="493.5" y1="573.1" x2="499.1" y2="573.1"/></g><rect x="493.8" y="570.6" width="5" height="5" fill="#000"/><g stroke="#111" stroke-width="1"><line x1="513.2" y1="553.6" x2="513.2" y2="560.5"/><line x1="510.4" y1="553.6" x2="516.0" y2="553.6"/><line x1="510.4" y1="560.5" x2="516.0" y2="560.5"/></g><rect x="510.7" y="554.5" width="5" height="5" fill="#000"/><g stroke="#111" stroke-width="1"><line x1="530.1" y1="527.3" x2="530.1" y2="531.8"/><line x1="527.3" y1="527.3" x2="532.9" y2="527.3"/><line x1="527.3" y1="531.8" x2="532.9" y2="531.8"/></g><rect x="527.6" y="527.1" width="5" height="5" fill="#000"/><g stroke="#111" stroke-width="1"><line x1="547.0" y1="512.4" x2="547.0" y2="521.5"/><line x1="544.2" y1="512.4" x2="549.8" y2="512.4"/><line x1="544.2" y1="521.5" x2="549.8" y2="521.5"/></g><rect x="544.5" y="514.5" width="5" height="5" fill="#000"/><g stroke="#111" stroke-width="1"><line x1="563.9" y1="479.2" x2="563.9" y2="490.6"/><line x1="561.1" y1="479.2" x2="566.7" y2="479.2"/><line x1="561.1" y1="490.6" x2="566.7" y2="490.6"/></g><rect x="561.4" y="482.4" width="5" height="5" fill="#000"/><g stroke="#111" stroke-width="1"><line x1="580.8" y1="487.2" x2="580.8" y2="494.1"/><line x1="578.0" y1="487.2" x2="583.6" y2="487.2"/><line x1="578.0" y1="494.1" x2="583.6" y2="494.1"/></g><rect x="578.3" y="488.1" width="5" height="5" fill="#000"/><g stroke="#111" stroke-width="1"><line x1="597.7" y1="474.6" x2="597.7" y2="483.8"/><line x1="594.9" y1="474.6" x2="600.5" y2="474.6"/><line x1="594.9" y1="483.8" x2="600.5" y2="483.8"/></g><rect x="595.2" y="476.7" width="5" height="5" fill="#000"/><g stroke="#111" stroke-width="1"><line x1="614.6" y1="470.0" x2="614.6" y2="481.5"/><line x1="611.8" y1="470.0" x2="617.4" y2="470.0"/><line x1="611.8" y1="481.5" x2="617.4" y2="481.5"/></g><rect x="612.1" y="473.2" width="5" height="5" fill="#000"/><text x="0" y="0" font-family='"Liberation Sans", sans-serif' font-size="13.2" text-anchor="middle" fill="#000" transform="translate(453.9,515.35) rotate(-90)">Normalized Response</text><polyline points="486.9,611.2 486.9,733.3 623,733.3" fill="none" stroke="#555" stroke-width="1"/><line x1="484.29999999999995" y1="711.4" x2="486.9" y2="711.4" stroke="#555" stroke-width="1"/><text x="480.9" y="716.1" font-family='"Liberation Sans", sans-serif' font-size="13.5" text-anchor="end" fill="#000" >0.2</text><line x1="484.29999999999995" y1="688.5" x2="486.9" y2="688.5" stroke="#555" stroke-width="1"/><text x="480.9" y="693.2" font-family='"Liberation Sans", sans-serif' font-size="13.5" text-anchor="end" fill="#000" >0.4</text><line x1="484.29999999999995" y1="665.6" x2="486.9" y2="665.6" stroke="#555" stroke-width="1"/><text x="480.9" y="670.3" font-family='"Liberation Sans", sans-serif' font-size="13.5" text-anchor="end" fill="#000" >0.6</text><line x1="484.29999999999995" y1="642.7" x2="486.9" y2="642.7" stroke="#555" stroke-width="1"/><text x="480.9" y="647.4" font-family='"Liberation Sans", sans-serif' font-size="13.5" text-anchor="end" fill="#000" >0.8</text><line x1="484.29999999999995" y1="619.8" x2="486.9" y2="619.8" stroke="#555" stroke-width="1"/><text x="480.9" y="624.5" font-family='"Liberation Sans", sans-serif' font-size="13.5" text-anchor="end" fill="#000" >1.0</text><line x1="498.8" y1="733.3" x2="498.8" y2="736.0" stroke="#555" stroke-width="1"/><text x="498.8" y="752.8" font-family='"Liberation Sans", sans-serif' font-size="13.5" text-anchor="middle" fill="#000" >-20</text><line x1="521.9" y1="733.3" x2="521.9" y2="736.0" stroke="#555" stroke-width="1"/><text x="521.9" y="752.8" font-family='"Liberation Sans", sans-serif' font-size="13.5" text-anchor="middle" fill="#000" >-10</text><line x1="545.0" y1="733.3" x2="545.0" y2="736.0" stroke="#555" stroke-width="1"/><text x="545.0" y="752.8" font-family='"Liberation Sans", sans-serif' font-size="13.5" text-anchor="middle" fill="#000" >0</text><line x1="568.1" y1="733.3" x2="568.1" y2="736.0" stroke="#555" stroke-width="1"/><text x="568.1" y="752.8" font-family='"Liberation Sans", sans-serif' font-size="13.5" text-anchor="middle" fill="#000" >10</text><line x1="591.2" y1="733.3" x2="591.2" y2="736.0" stroke="#555" stroke-width="1"/><text x="591.2" y="752.8" font-family='"Liberation Sans", sans-serif' font-size="13.5" text-anchor="middle" fill="#000" >20</text><line x1="614.3" y1="733.3" x2="614.3" y2="736.0" stroke="#555" stroke-width="1"/><text x="614.3" y="752.8" font-family='"Liberation Sans", sans-serif' font-size="13.5" text-anchor="middle" fill="#000" >30</text><polyline points="498.8,724.0 521.9,674.8 545.0,624.4 568.1,648.4 591.2,658.7 614.3,699.9" fill="none" stroke="#111" stroke-width="1.2"/><g stroke="#111" stroke-width="1"><line x1="498.8" y1="719.4" x2="498.8" y2="728.6"/><line x1="496.0" y1="719.4" x2="501.6" y2="719.4"/><line x1="496.0" y1="728.6" x2="501.6" y2="728.6"/></g><rect x="496.3" y="721.5" width="5" height="5" fill="#000"/><g stroke="#111" stroke-width="1"><line x1="521.9" y1="661.0" x2="521.9" y2="688.5"/><line x1="519.1" y1="661.0" x2="524.7" y2="661.0"/><line x1="519.1" y1="688.5" x2="524.7" y2="688.5"/></g><rect x="519.4" y="672.3" width="5" height="5" fill="#000"/><g stroke="#111" stroke-width="1"><line x1="545.0" y1="623.2" x2="545.0" y2="625.5"/><line x1="542.2" y1="623.2" x2="547.8" y2="623.2"/><line x1="542.2" y1="625.5" x2="547.8" y2="625.5"/></g><rect x="542.5" y="621.9" width="5" height="5" fill="#000"/><g stroke="#111" stroke-width="1"><line x1="568.1" y1="639.3" x2="568.1" y2="657.6"/><line x1="565.3" y1="639.3" x2="570.9" y2="639.3"/><line x1="565.3" y1="657.6" x2="570.9" y2="657.6"/></g><rect x="565.6" y="645.9" width="5" height="5" fill="#000"/><g stroke="#111" stroke-width="1"><line x1="591.2" y1="646.1" x2="591.2" y2="671.3"/><line x1="588.4" y1="646.1" x2="594.0" y2="646.1"/><line x1="588.4" y1="671.3" x2="594.0" y2="671.3"/></g><rect x="588.7" y="656.2" width="5" height="5" fill="#000"/><g stroke="#111" stroke-width="1"><line x1="614.3" y1="690.8" x2="614.3" y2="709.1"/><line x1="611.5" y1="690.8" x2="617.1" y2="690.8"/><line x1="611.5" y1="709.1" x2="617.1" y2="709.1"/></g><rect x="611.8" y="697.4" width="5" height="5" fill="#000"/><text x="0" y="0" font-family='"Liberation Sans", sans-serif' font-size="13.2" text-anchor="middle" fill="#000" transform="translate(452.9,674.45) rotate(-90)">Normalized Response</text><text x="557.7" y="774.5" font-family='"Liberation Sans", sans-serif' font-size="14.3" text-anchor="middle" fill="#000" >Intensity Level (dB)</text><polyline points="138.7,820.9 138.7,982.5 334.9,982.5" fill="none" stroke="#555" stroke-width="1.1"/><line x1="135.7" y1="982.5" x2="138.7" y2="982.5" stroke="#555" stroke-width="1"/><text x="130.5" y="987.3" font-family='"Liberation Sans", sans-serif' font-size="13.5" text-anchor="end" fill="#000" >0.0</text><line x1="135.7" y1="953.1" x2="138.7" y2="953.1" stroke="#555" stroke-width="1"/><text x="130.5" y="957.9" font-family='"Liberation Sans", sans-serif' font-size="13.5" text-anchor="end" fill="#000" >0.5</text><line x1="135.7" y1="923.7" x2="138.7" y2="923.7" stroke="#555" stroke-width="1"/><text x="130.5" y="928.5" font-family='"Liberation Sans", sans-serif' font-size="13.5" text-anchor="end" fill="#000" >1.0</text><line x1="135.7" y1="894.3" x2="138.7" y2="894.3" stroke="#555" stroke-width="1"/><text x="130.5" y="899.0999999999999" font-family='"Liberation Sans", sans-serif' font-size="13.5" text-anchor="end" fill="#000" >1.5</text><line x1="135.7" y1="864.9" x2="138.7" y2="864.9" stroke="#555" stroke-width="1"/><text x="130.5" y="869.6999999999999" font-family='"Liberation Sans", sans-serif' font-size="13.5" text-anchor="end" fill="#000" >2.0</text><line x1="135.7" y1="835.5" x2="138.7" y2="835.5" stroke="#555" stroke-width="1"/><text x="130.5" y="840.3" font-family='"Liberation Sans", sans-serif' font-size="13.5" text-anchor="end" fill="#000" >2.5</text><rect x="152" y="936.9" width="28.7" height="45.6" fill="#44f01e" stroke="#2a9a10" stroke-width="0.8"/><g stroke="#222" stroke-width="1"><line x1="166.35" y1="933.4" x2="166.35" y2="940.5"/><line x1="161.54999999999998" y1="933.4" x2="171.15" y2="933.4"/><line x1="161.54999999999998" y1="940.5" x2="171.15" y2="940.5"/></g><rect x="187.5" y="935.2" width="28.3" height="47.3" fill="#f50505" stroke="#a00000" stroke-width="0.8"/><g stroke="#222" stroke-width="1"><line x1="201.65" y1="932.2" x2="201.65" y2="938.1"/><line x1="196.85" y1="932.2" x2="206.45000000000002" y2="932.2"/><line x1="196.85" y1="938.1" x2="206.45000000000002" y2="938.1"/></g><rect x="250.3" y="934.9" width="28.4" height="47.6" fill="#44f01e" stroke="#2a9a10" stroke-width="0.8"/><g stroke="#222" stroke-width="1"><line x1="264.5" y1="931.6" x2="264.5" y2="938.1"/><line x1="259.7" y1="931.6" x2="269.3" y2="931.6"/><line x1="259.7" y1="938.1" x2="269.3" y2="938.1"/></g><rect x="286" y="879.6" width="28.2" height="102.9" fill="#f50505" stroke="#a00000" stroke-width="0.8"/><g stroke="#222" stroke-width="1"><line x1="300.1" y1="874.3" x2="300.1" y2="884.9"/><line x1="295.3" y1="874.3" x2="304.90000000000003" y2="874.3"/><line x1="295.3" y1="884.9" x2="304.90000000000003" y2="884.9"/></g><polyline points="257.6,861.8 257.6,851.1 295.8,851.1 295.8,861.8" fill="none" stroke="#222" stroke-width="1.5"/><text x="275.9" y="851" font-family='"Liberation Sans", sans-serif' font-size="23" text-anchor="middle" fill="#000" >*</text><rect x="147.5" y="828.2" width="31" height="11" fill="#44f01e" stroke="#2a9a10" stroke-width="0.8"/><rect x="147.5" y="843.7" width="31" height="10.6" fill="#f50505" stroke="#a00000" stroke-width="0.8"/><text x="181.5" y="838" font-family='"Liberation Sans", sans-serif' font-size="13.3" text-anchor="start" fill="#000" >NM</text><text x="181.5" y="853" font-family='"Liberation Sans", sans-serif' font-size="13.3" text-anchor="start" fill="#000" >A1</text><text x="0" y="0" font-family='"Liberation Sans", sans-serif' font-size="14.6" text-anchor="middle" fill="#000" transform="translate(97.5,907.5) rotate(-90)">Bandwidth (octave)</text><text x="186.7" y="1012.3" font-family='"Liberation Sans", sans-serif' font-size="13.3" text-anchor="middle" fill="#000" >BW10</text><text x="285" y="1012.3" font-family='"Liberation Sans", sans-serif' font-size="13.3" text-anchor="middle" fill="#000" >BW30</text><text x="79.5" y="819" font-family='"Liberation Sans", sans-serif' font-size="23.5" text-anchor="start" fill="#000" >D</text><polyline points="453.1,820.4 453.1,982.3 654,982.3" fill="none" stroke="#555" stroke-width="1.1"/><line x1="450.1" y1="982.3" x2="453.1" y2="982.3" stroke="#555" stroke-width="1"/><text x="444.5" y="987.0999999999999" font-family='"Liberation Sans", sans-serif' font-size="13.5" text-anchor="end" fill="#000" >0</text><line x1="450.1" y1="955.3" x2="453.1" y2="955.3" stroke="#555" stroke-width="1"/><text x="444.5" y="960.1199999999999" font-family='"Liberation Sans", sans-serif' font-size="13.5" text-anchor="end" fill="#000" >10</text><line x1="450.1" y1="928.3" x2="453.1" y2="928.3" stroke="#555" stroke-width="1"/><text x="444.5" y="933.1399999999999" font-family='"Liberation Sans", sans-serif' font-size="13.5" text-anchor="end" fill="#000" >20</text><line x1="450.1" y1="901.4" x2="453.1" y2="901.4" stroke="#555" stroke-width="1"/><text x="444.5" y="906.1599999999999" font-family='"Liberation Sans", sans-serif' font-size="13.5" text-anchor="end" fill="#000" >30</text><line x1="450.1" y1="874.4" x2="453.1" y2="874.4" stroke="#555" stroke-width="1"/><text x="444.5" y="879.18" font-family='"Liberation Sans", sans-serif' font-size="13.5" text-anchor="end" fill="#000" >40</text><line x1="450.1" y1="847.4" x2="453.1" y2="847.4" stroke="#555" stroke-width="1"/><text x="444.5" y="852.1999999999999" font-family='"Liberation Sans", sans-serif' font-size="13.5" text-anchor="end" fill="#000" >50</text><line x1="450.1" y1="820.4" x2="453.1" y2="820.4" stroke="#555" stroke-width="1"/><text x="444.5" y="825.2199999999999" font-family='"Liberation Sans", sans-serif' font-size="13.5" text-anchor="end" fill="#000" >60</text><line x1="470.8" y1="982.3" x2="470.8" y2="984.8" stroke="#555" stroke-width="1"/><line x1="489.3" y1="982.3" x2="489.3" y2="984.8" stroke="#555" stroke-width="1"/><line x1="507.9" y1="982.3" x2="507.9" y2="984.8" stroke="#555" stroke-width="1"/><line x1="526.4" y1="982.3" x2="526.4" y2="984.8" stroke="#555" stroke-width="1"/><line x1="544.9" y1="982.3" x2="544.9" y2="984.8" stroke="#555" stroke-width="1"/><line x1="563.4" y1="982.3" x2="563.4" y2="984.8" stroke="#555" stroke-width="1"/><line x1="581.9" y1="982.3" x2="581.9" y2="984.8" stroke="#555" stroke-width="1"/><line x1="600.5" y1="982.3" x2="600.5" y2="984.8" stroke="#555" stroke-width="1"/><line x1="619.0" y1="982.3" x2="619.0" y2="984.8" stroke="#555" stroke-width="1"/><line x1="637.5" y1="982.3" x2="637.5" y2="984.8" stroke="#555" stroke-width="1"/><text x="488.34000000000003" y="1002.3" font-family='"Liberation Sans", sans-serif' font-size="13" text-anchor="middle" fill="#000" >0.2</text><text x="525.38" y="1002.3" font-family='"Liberation Sans", sans-serif' font-size="13" text-anchor="middle" fill="#000" >0.4</text><text x="562.42" y="1002.3" font-family='"Liberation Sans", sans-serif' font-size="13" text-anchor="middle" fill="#000" >0.6</text><text x="599.46" y="1002.3" font-family='"Liberation Sans", sans-serif' font-size="13" text-anchor="middle" fill="#000" >0.8</text><text x="636.5" y="1002.3" font-family='"Liberation Sans", sans-serif' font-size="13" text-anchor="middle" fill="#000" >1.0</text><rect x="480.1" y="959.9" width="4.8" height="22.4" fill="#44f01e" stroke="#2a9a10" stroke-width="0.7"/><rect x="498.6" y="971.0" width="4.8" height="11.3" fill="#44f01e" stroke="#2a9a10" stroke-width="0.7"/><rect x="517.1" y="948.6" width="4.8" height="33.7" fill="#44f01e" stroke="#2a9a10" stroke-width="0.7"/><rect x="535.6" y="903.5" width="4.8" height="78.8" fill="#44f01e" stroke="#2a9a10" stroke-width="0.7"/><rect x="554.2" y="903.5" width="4.8" height="78.8" fill="#44f01e" stroke="#2a9a10" stroke-width="0.7"/><rect x="572.7" y="959.9" width="4.8" height="22.4" fill="#44f01e" stroke="#2a9a10" stroke-width="0.7"/><rect x="591.2" y="971.0" width="4.8" height="11.3" fill="#44f01e" stroke="#2a9a10" stroke-width="0.7"/><rect x="609.7" y="971.0" width="4.8" height="11.3" fill="#44f01e" stroke="#2a9a10" stroke-width="0.7"/><rect x="549.4" y="978.3" width="4.8" height="4.0" fill="#f50505" stroke="#a00000" stroke-width="0.7"/><rect x="567.9" y="974.5" width="4.8" height="7.8" fill="#f50505" stroke="#a00000" stroke-width="0.7"/><rect x="586.4" y="962.6" width="4.8" height="19.7" fill="#f50505" stroke="#a00000" stroke-width="0.7"/><rect x="604.9" y="931.0" width="4.8" height="51.3" fill="#f50505" stroke="#a00000" stroke-width="0.7"/><rect x="623.4" y="946.7" width="4.8" height="35.6" fill="#f50505" stroke="#a00000" stroke-width="0.7"/><rect x="642.0" y="831.2" width="4.8" height="151.1" fill="#f50505" stroke="#a00000" stroke-width="0.7"/><rect x="467.4" y="827.3" width="31.3" height="10.6" fill="#44f01e" stroke="#2a9a10" stroke-width="0.8"/><rect x="467.4" y="842.5" width="31.3" height="10.7" fill="#f50505" stroke="#a00000" stroke-width="0.8"/><text x="501" y="837" font-family='"Liberation Sans", sans-serif' font-size="13.3" text-anchor="start" fill="#000" >NM</text><text x="501" y="852.5" font-family='"Liberation Sans", sans-serif' font-size="13.3" text-anchor="start" fill="#000" >A1</text><text x="0" y="0" font-family='"Liberation Sans", sans-serif' font-size="14.5" text-anchor="middle" fill="#000" transform="translate(410.8,903.8) rotate(-90)">Percentage (%)</text><text x="553.7" y="1019" font-family='"Liberation Sans", sans-serif' font-size="14.3" text-anchor="middle" fill="#000" >Intensity Tuning Index</text><text x="368.5" y="819" font-family='"Liberation Sans", sans-serif' font-size="23.5" text-anchor="start" fill="#000" >E</text>
</svg></body></html>
